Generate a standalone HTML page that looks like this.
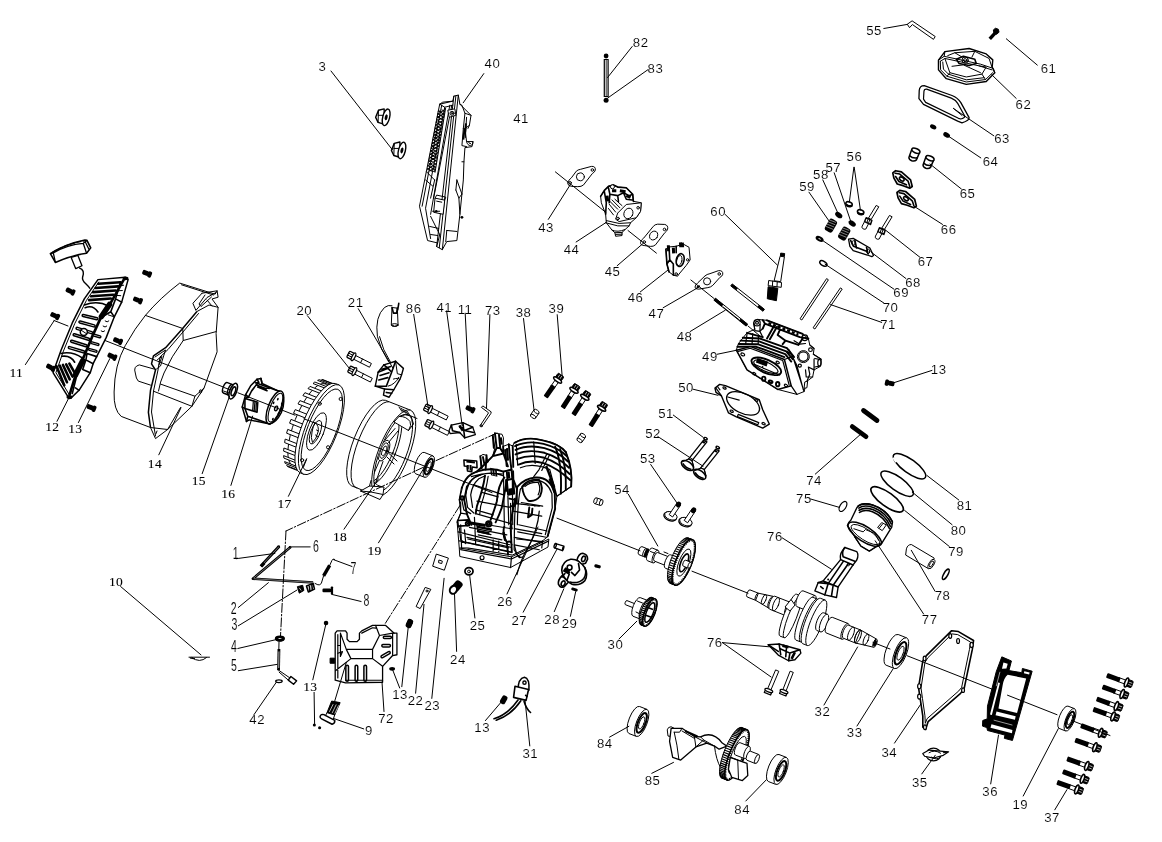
<!DOCTYPE html>
<html><head><meta charset="utf-8"><title>Engine exploded view</title>
<style>
html,body{margin:0;padding:0;background:#fff;}
svg{display:block;filter:grayscale(1)}
.l{stroke:#000;stroke-width:1;fill:none;stroke-linecap:round;stroke-linejoin:round}
.t{stroke:#000;stroke-width:1;fill:none;stroke-linecap:round;stroke-linejoin:round}
.w{stroke:#000;stroke-width:1;fill:#fff;stroke-linejoin:round}
.k{stroke:#000;stroke-width:1;fill:#000;stroke-linejoin:round}
.b{stroke:#000;stroke-width:1.6;fill:none;stroke-linecap:round;stroke-linejoin:round}
path,ellipse,circle,rect,line,polyline,polygon,use{vector-effect:non-scaling-stroke}
.c72 .b{stroke-width:1.2}.blk .l{stroke-width:1.2}.blk .b{stroke-width:1.9}
text{font-family:"Liberation Sans",sans-serif;font-size:13.2px;fill:#000;text-anchor:middle;letter-spacing:.5px;stroke:#fff;stroke-width:.12px}
text.s{font-family:"Liberation Serif",serif;font-size:13.5px;stroke:#000;stroke-width:.1px;letter-spacing:.3px}
text.n{font-family:"Liberation Sans",sans-serif;font-size:17px;letter-spacing:0}
</style></head>
<body>
<svg width="1162" height="842" viewBox="0 0 1162 842">
<rect width="1162" height="842" fill="#fff"/>
<!-- 02_defs.svg -->
<defs>
<g id="bolt"><rect class="w" x="0" y="-2.1" width="19" height="4.2"/><path class="l" d="M9 -2.1V2.1"/><rect class="w" x="-6" y="-3.4" width="5.5" height="6.8" rx="1" style="stroke-width:1.3"/><path class="l" d="M-6 -1.1H-.5M-6 1.1H-.5"/><ellipse class="w" cx="0" cy="0" rx="1.5" ry="4.3" style="stroke-width:1.3"/></g>
<g id="boltk"><rect class="w" x="0" y="-2" width="9" height="4"/><rect x="7" y="-2.5" width="14" height="5" rx="1" fill="#000"/><rect x="-6.2" y="-3.5" width="6" height="7" rx="1.2" fill="#000" stroke="#000" stroke-width="1"/><path d="M-5.6 -1.2H-1M-5.6 1.2H-1" stroke="#fff" stroke-width=".7"/><ellipse cx="0" cy="0" rx="1.7" ry="4.7" fill="#fff" stroke="#000" stroke-width="1.6"/></g>
<g id="scr"><rect x="-5" y="-2.4" width="6.5" height="4.8" rx="1.4" fill="#000"/><rect x="0.8" y="-3.2" width="3.8" height="6.4" rx="1.6" fill="#000"/></g>
</defs>

<!-- 10_p12.svg -->
<g transform="translate(40 230) scale(0.08313)">
<path d="M375 330L455 305L505 430L430 465Z" fill="#fff" stroke="#000" stroke-width="1.3" stroke-linejoin="round"/>
<path d="M125 285Q300 170 540 120L565 125L610 215L560 280Q400 300 185 390Z" fill="#fff" stroke="#000" stroke-width="1.6" stroke-linejoin="round"/>
<path d="M160 275Q330 175 520 160L560 280M520 160L565 125M545 145L590 235M160 275L125 285M160 275L185 390" fill="none" stroke="#000" stroke-width="1.3" stroke-linejoin="round"/>
<path d="M150 268Q320 165 545 128" fill="none" stroke="#000" stroke-width="1.2" stroke-dasharray="5 1.5"/>
<path d="M470 455C525 470 532 520 512 570C500 625 560 640 602 705" fill="none" stroke="#000" stroke-width="1.4"/>
</g>
<g transform="translate(45 270) scale(0.16043)">
<path d="M330 60L500 45L518 60L478 200L432 292L382 420L322 540L300 584L282 640L212 750L160 800L140 785L50 640L100 500L170 330L245 180Z" fill="#fff" stroke="#000" stroke-width="1.5" stroke-linejoin="round"/>
<path class="l" d="M335 75L258 190L185 335L115 505L68 640L150 775"/>
<path d="M492 58L400 222L350 292L292 420L242 540L192 650L152 782" fill="none" stroke="#000" stroke-width="2.6" stroke-linejoin="round"/>
<path d="M402 215L352 290M235 565L190 655" stroke="#000" stroke-width="5.5" stroke-linecap="round"/>
<path d="M332 86L470 76" stroke="#000" stroke-width="2.6" stroke-linecap="round"/>
<path d="M316 112L455 102" stroke="#000" stroke-width="2.6" stroke-linecap="round"/>
<path d="M300 138L440 128" stroke="#000" stroke-width="2.6" stroke-linecap="round"/>
<path d="M288 164L425 154" stroke="#000" stroke-width="2.6" stroke-linecap="round"/>
<path d="M275 188L410 178" stroke="#000" stroke-width="2.6" stroke-linecap="round"/>
<path class="b" d="M245 218Q330 188 395 225M250 235Q300 215 330 262M100 520Q170 505 232 548M105 538Q160 530 185 575"/>
<rect x="0" y="-6.5" width="100.7" height="13.0" rx="6.5" fill="#fff" stroke="#000" stroke-width="1.5" transform="translate(232.0 282.0) rotate(13.2)"/>
<rect x="0" y="-6.5" width="103.8" height="13.0" rx="6.5" fill="#fff" stroke="#000" stroke-width="1.5" transform="translate(212.0 322.0) rotate(15.6)"/>
<rect x="0" y="-6.5" width="106.3" height="13.0" rx="6.5" fill="#fff" stroke="#000" stroke-width="1.5" transform="translate(194.0 362.0) rotate(16.4)"/>
<rect x="0" y="-6.5" width="106.9" height="13.0" rx="6.5" fill="#fff" stroke="#000" stroke-width="1.5" transform="translate(176.0 402.0) rotate(17.4)"/>
<rect x="0" y="-6.5" width="106.9" height="13.0" rx="6.5" fill="#fff" stroke="#000" stroke-width="1.5" transform="translate(160.0 442.0) rotate(17.4)"/>
<rect x="0" y="-6.5" width="104.4" height="13.0" rx="6.5" fill="#fff" stroke="#000" stroke-width="1.5" transform="translate(146.0 482.0) rotate(16.7)"/>
<rect x="0" y="-6.0" width="49.7" height="12.0" rx="6.0" fill="#fff" stroke="#000" stroke-width="1.4" transform="translate(300.0 405.0) rotate(15.2)"/>
<rect x="0" y="-6.0" width="51.9" height="12.0" rx="6.0" fill="#fff" stroke="#000" stroke-width="1.4" transform="translate(286.0 452.0) rotate(15.6)"/>
<rect x="0" y="-6.0" width="53.9" height="12.0" rx="6.0" fill="#fff" stroke="#000" stroke-width="1.4" transform="translate(272.0 494.0) rotate(15.1)"/>
<circle cx="242" cy="386" r="22" fill="#fff" stroke="#000" stroke-width="1.5"/><path class="l" d="M225 375L260 398"/>
<path d="M72 600L120 718" stroke="#000" stroke-width="2.6" stroke-linecap="round"/>
<path d="M92 596L137 700" stroke="#000" stroke-width="2.6" stroke-linecap="round"/>
<path d="M112 592L154 682" stroke="#000" stroke-width="2.6" stroke-linecap="round"/>
<path d="M132 588L171 664" stroke="#000" stroke-width="2.6" stroke-linecap="round"/>
<path d="M152 584L188 646" stroke="#000" stroke-width="2.6" stroke-linecap="round"/>
<path class="b" d="M470 75L440 180L478 200M440 180L410 260L432 292M410 260L360 290M300 584L255 560L235 620L282 640M255 560L262 520L322 540M212 750L190 735M170 770L200 650"/>
<path class="l" d="M455 100L490 95M445 130L482 128M436 158L472 160M375 318Q388 330 398 318M362 350Q375 362 385 350M350 380Q362 392 372 380M395 280L425 290"/>
<ellipse cx="502" cy="52" rx="18" ry="12" fill="#000"/><ellipse cx="152" cy="792" rx="18" ry="13" fill="#000"/>
</g>
<use href="#scr" transform="translate(70.6 291.3) rotate(25)"/>
<use href="#scr" transform="translate(55.2 315.9) rotate(25)"/>
<use href="#scr" transform="translate(51.0 367.6) rotate(28)"/>
<use href="#scr" transform="translate(147.2 273.5) rotate(22)"/>
<use href="#scr" transform="translate(138.0 300.2) rotate(22)"/>
<use href="#scr" transform="translate(118.1 340.9) rotate(22)"/>
<use href="#scr" transform="translate(112.4 356.5) rotate(25)"/>
<use href="#scr" transform="translate(91.6 407.8) rotate(22)"/>
<!-- 12_p14.svg -->
<g>
<!-- fan cover 14 -->
<path class="w" d="M179.7 283.1L215.1 294.2L217.1 290.8L218.1 297.2L212 299L218.1 307.3L216.1 333.6L217.1 351.8L204 388.1L191.9 406.3L167.6 429.5L155.5 438.6L150.5 427.5L121.2 416.4Q113.5 410 114.1 392Q114.5 365 125.2 345.7Q135 328 145.4 315.4Q160 298 179.7 283.1Z"/>
<path class="l" d="M181.5 284.8L213.5 295"/>
<path class="l" d="M145.4 315.4L182.8 328.5"/>
<path class="l" d="M202 293.2L217.1 290.8M202 293.2L192.9 303.3L195.9 310.4L207 297.5L216 292.5M205 295L199 304L201 306.5L211.5 297M197 311.5L209 305L218 307.3M207 300L212 306"/>
<path d="M196.9 311.4L181.8 329.5L165.6 347.7L153.5 355.8L151.5 363.9L155.5 370L150.5 390.2L148.4 412.4L150.5 427.5" fill="none" stroke="#000" stroke-width="1.5" stroke-linejoin="round"/>
<path class="l" d="M198.5 313.5L183.8 331L168 349.5L160 357L158 370L153.5 391L151.5 412L155.5 436"/>
<path class="l" d="M155 357L165.5 350L160.5 366L156.5 369M157.5 359.5L162 356.5L159 365"/>
<path class="l" d="M182.8 329.5L183.2 340.5L216.1 331.6M183.2 340.5Q171 357 164 373Q160 382 158.5 391"/>
<path class="l" d="M153.5 368.9L139.3 364.9Q133 366.5 135.3 373Q136 379 138.3 381.1L150.5 385.1"/>
<path class="l" d="M160.6 384.1L194.9 396.2M153.5 391.2L191.9 406.3M204 388.1L194.9 396.2L192 406"/>
<path class="l" d="M150.5 427.5L167.6 429.5M167.6 429.5L180.5 407.5M157 431L155.8 434"/>
<ellipse cx="200.5" cy="391.5" rx="1.1" ry="1.7" class="l"/>
</g>

<!-- 14_fly.svg -->
<path class="w" style="stroke-width:1.4" d="M232.6 384.6L227.4 382.6A2.4 5.6 21.5 0 0 223.3 393.0L228.4 395.0Z"/><ellipse class="w" style="stroke-width:1.4" rx="2.4" ry="5.6" transform="translate(230.5 389.8) rotate(21.5)" />
<path class="l" d="M224 387.5L229.5 389.5M223.5 391L229 393"/>
<ellipse class="w" rx="3.4" ry="8.3" transform="translate(233.2 391.2) rotate(21.5)" style="stroke-width:1.5"/>
<ellipse class="l" rx="1.9" ry="4.6" transform="translate(233.4 391.3) rotate(21.5)" style="stroke-width:1.6"/>
<g transform="translate(220 370) scale(0.07123)">
<path d="M575 118L520 130L430 222L360 345L312 520L372 722L410 700L700 758Q790 740 860 600Q920 450 880 340Q860 300 830 300L590 190Z" fill="#fff" stroke="#000" stroke-width="1.5" stroke-linejoin="round"/>
<path class="b" d="M575 118L590 190M520 130L545 175L500 180M545 175Q450 260 400 380M360 345L400 380L350 400M312 520L350 540L390 650L372 722M390 650L700 758M500 180L830 300"/>
<path class="b" d="M350 400L530 452L520 592L350 540ZM520 215L650 262M530 240L660 290"/>
<path d="M468 440L458 572M490 450L480 578M512 455L502 585M640 255L700 262" stroke="#000" stroke-width="1.2"/>
<ellipse cx="770" cy="525" rx="92" ry="245" transform="rotate(21.5 770 525)" fill="#fff" stroke="#000" stroke-width="1.5"/>
<ellipse cx="778" cy="528" rx="72" ry="215" transform="rotate(21.5 778 528)" fill="none" stroke="#000" stroke-width="1.1"/>
<ellipse cx="788" cy="540" rx="20" ry="34" transform="rotate(21.5 788 540)" fill="none" stroke="#000" stroke-width="1.4"/>
<ellipse cx="812" cy="410" rx="12" ry="20" transform="rotate(21.5 812 410)" fill="#000"/>
<ellipse cx="752" cy="462" rx="12" ry="20" transform="rotate(21.5 752 462)" fill="#000"/>
<ellipse cx="868" cy="472" rx="12" ry="20" transform="rotate(21.5 868 472)" fill="#000"/>
<ellipse cx="822" cy="612" rx="12" ry="20" transform="rotate(21.5 822 612)" fill="#000"/>
<ellipse cx="742" cy="690" rx="12" ry="20" transform="rotate(21.5 742 690)" fill="#000"/>
<ellipse cx="850" cy="560" rx="12" ry="20" transform="rotate(21.5 850 560)" fill="#000"/>
</g>
<ellipse class="w" rx="14.7" ry="44.0" transform="translate(309.0 424.8) rotate(21.5)" />
<path class="w" d="M287.6 466.6L299.7 471.4L298.7 470.4L286.6 465.6Z"/>
<path class="w" d="M285.2 463.4L297.3 468.2L296.7 466.4L284.6 461.6Z"/>
<path class="w" d="M283.9 458.1L296.0 462.9L295.7 460.4L283.6 455.6Z"/>
<path class="w" d="M283.6 451.1L295.7 455.8L296.0 452.7L283.9 448.0Z"/>
<path class="w" d="M284.6 442.6L296.7 447.4L297.3 443.8L285.2 439.1Z"/>
<path class="w" d="M286.6 433.2L298.7 437.9L299.8 434.1L287.7 429.4Z"/>
<path class="w" d="M289.6 423.2L301.7 428.0L303.1 424.2L291.0 419.4Z"/>
<path class="w" d="M293.5 413.3L305.6 418.1L307.3 414.4L295.2 409.6Z"/>
<path class="w" d="M298.0 403.9L310.1 408.7L312.0 405.3L299.9 400.6Z"/>
<path class="w" d="M302.9 395.6L315.0 400.3L317.0 397.5L304.9 392.7Z"/>
<path class="w" d="M308.0 388.6L320.1 393.4L322.1 391.2L310.0 386.4Z"/>
<path class="w" d="M313.0 383.5L325.1 388.2L326.9 386.8L314.8 382.0Z"/>
<path class="w" d="M317.6 380.4L329.7 385.1L331.4 384.5L319.3 379.7Z"/>
<path class="w" d="M321.7 379.5L333.8 384.2L335.1 384.5L323.0 379.7Z"/>
<path class="w" d="M339.0 384.9L335.3 383.5A16.0 48.0 21.5 0 0 300.1 472.8L303.8 474.3Z"/><ellipse class="w" rx="16.0" ry="48.0" transform="translate(321.4 429.6) rotate(21.5)" />
<ellipse class="l" rx="14.3" ry="43.5" transform="translate(321.9 429.8) rotate(21.5)" />
<ellipse class="l" rx="7.2" ry="20.0" transform="translate(316.5 431.5) rotate(21.5)" />
<ellipse class="l" rx="4.6" ry="12.5" transform="translate(315.5 432.2) rotate(21.5)" />
<path class="l" transform="translate(0 2)" d="M315 420.5Q319.5 424 318 430Q316.5 437 312.5 440.5Q310.5 436 312 430Q313 424 315 420.5ZM316.5 428L318.5 429M315.5 433L317.5 434.5"/>
<circle class="l" cx="340.7" cy="399.0" r="1.6"/>
<circle class="l" cx="328.1" cy="447.3" r="1.6"/>
<circle class="l" cx="302.1" cy="460.2" r="1.6"/>
<circle class="l" cx="319.7" cy="403.7" r="1.6"/>
<path class="l" d="M303.5 467L306.5 459.5"/>
<path class="w" d="M410.6 410.2L385.4 400.3A15.3 46.0 21.5 0 0 351.7 485.9L376.8 495.8Z"/><ellipse class="w" rx="15.3" ry="46.0" transform="translate(393.7 453.0) rotate(21.5)" />
<defs><clipPath id="c18"><path d="M330 380L389.9 399.1L356.2 490.7L330 520Z"/></clipPath><clipPath id="c18b"><ellipse rx="13.2" ry="41" transform="translate(393.2 452.8) rotate(21.5)"/></clipPath></defs>
<g clip-path="url(#c18)"><ellipse class="l" rx="15.3" ry="46.0" transform="translate(373.1 444.9) rotate(21.5)" /></g>
<ellipse class="l" rx="13.2" ry="41.0" transform="translate(393.2 452.8) rotate(21.5)" />
<g clip-path="url(#c18b)">
<ellipse class="l" rx="12.5" ry="38.0" transform="translate(383.7 449.0) rotate(21.5)" />
<ellipse class="l" rx="11.5" ry="35.5" transform="translate(382.2 448.4) rotate(21.5)" />
<ellipse class="w" rx="4.6" ry="11.0" transform="translate(384.0 450.6) rotate(21.5)" />
<ellipse class="l" rx="3.3" ry="8.2" transform="translate(384.0 450.6) rotate(21.5)" />
<ellipse class="l" rx="2.0" ry="5.2" transform="translate(384.3 450.8) rotate(21.5)" />
<path class="l" d="M385 440L395 428.5M388.5 442.5L398 431M379.5 460.5L372 478M383 461.5L376 481.5M388.5 453L397 461M387 457L394 464"/>
</g>
<path class="w" d="M394 422L399 416.5Q406 416 410 421.5Q412 425 408.5 430.5Z"/><path class="l" d="M408.5 430.5L413.5 424L411 416L404 414.5L399 416.5M411 416L417 418.5"/>
<path class="w" d="M360.5 491L369.5 486L384 487L383 494.5L380 499.5Z"/><path class="l" d="M369.5 486L371 480.5M383 494.5L371 492L360.5 491M374 482Q377 486 382 487"/>
<path class="l" d="M399.0 407.0L402.0 411.5"/>
<path class="l" d="M401.0 408.0L404.0 412.5"/>
<path class="l" d="M403.0 409.0L406.0 413.5"/>
<path class="l" d="M405.0 410.0L408.0 414.5"/>
<path class="l" d="M407.0 411.0L410.0 415.5"/>
<path class="w" d="M433.0 455.9L424.2 452.4A4.1 11.5 21.5 0 0 415.7 473.8L424.6 477.3Z"/><ellipse class="w" rx="4.1" ry="11.5" transform="translate(428.8 466.6) rotate(21.5)" /><ellipse class="l" rx="3.0" ry="8.3" transform="translate(428.8 466.6) rotate(21.5)" style="stroke-width:2"/><ellipse class="l" rx="1.8" ry="5.2" transform="translate(428.8 466.6) rotate(21.5)" />
<!-- 20_block.svg -->
<g class="blk" transform="translate(450 425) scale(0.17816)">
<!-- base -->
<path class="w" d="M52 690L345 740L555 640L550 685L340 800L55 738Z"/>
<path class="l" d="M345 740L340 800M60 700L345 752L552 652M100 690L350 728L520 648"/>
<circle class="l" cx="180" cy="745" r="11"/>
<!-- main body silhouette (white) -->
<path class="w" d="M75 332Q95 280 150 262L175 240L170 175L185 165L205 170L212 205L240 175L252 128L240 58L252 46L292 52L300 72L298 120L330 108L352 118L360 100Q420 60 520 85Q620 105 650 150Q690 250 680 345L600 400L590 470L550 625L520 650L350 730L100 690L52 690L40 545L60 495L52 420Z"/>
<!-- cylinder fins -->
<g class="b">
<path d="M362 100Q430 62 520 86Q615 106 650 152"/>
<path d="M365 118Q440 84 525 106Q610 128 655 175"/>
<path d="M368 140Q440 108 530 130Q610 152 662 205"/>
<path d="M368 165Q440 134 530 156Q610 180 668 240"/>
<path d="M375 192Q450 162 530 184Q605 208 672 275"/>
<path d="M385 222Q450 192 525 214Q600 240 676 310"/>
<path d="M650 152Q690 250 680 345"/>
<path d="M618 135Q655 230 650 365M590 122Q630 215 622 385"/>
</g>
<path class="l" d="M372 108L380 225M470 95L478 215M680 345L600 400L590 380M560 250L600 400M545 160L500 250L470 290M560 165L515 255M395 240Q450 215 520 235L560 250"/>
<path d="M540 230L585 350" stroke="#000" stroke-width="2.4" fill="none"/>
<!-- top bracket -->
<path class="b" d="M252 46L262 128L240 175M275 55L282 130M298 120L300 160L325 232M262 128L282 130L300 160M240 58L246 128M330 108L335 170L345 250M352 118L355 235M310 140L318 230M175 240L240 175M150 262L212 205M240 175L300 160"/>
<path d="M285 70L290 110M320 130L325 200" stroke="#000" stroke-width="2.2"/>
<!-- left bosses -->
<path class="w" d="M78 197L150 202L152 240L125 236L122 262L98 258L96 232L80 230Z" style="stroke-width:1.5"/>
<path d="M92 205L140 210M100 225L100 250M115 225L116 255" stroke="#000" stroke-width="2"/>
<path class="b" d="M170 175L178 242M205 170L200 250M185 180L192 215L212 205"/>
<path d="M225 240L262 250L266 290L230 282Z" fill="#000"/><path d="M236 250L240 280M250 252L254 284" stroke="#fff" stroke-width=".7"/>
<!-- crankcase left opening outer arcs -->
<path class="b" d="M75 332Q95 280 150 262Q230 235 300 262"/>
<path class="l" d="M65 350L52 420L60 440L60 495L95 500M75 332L65 350M60 495L40 545"/>
<!-- right crankcase half -->
<path class="b" d="M380 345Q420 300 480 295Q560 290 588 380L590 470L548 625"/>
<path class="l" d="M395 360Q430 318 480 312Q545 308 572 385L574 465L535 615"/>
<path class="b" d="M405 345Q440 300 500 308Q528 350 505 400Q480 432 440 425Q410 400 405 345Z"/>
<path class="l" d="M420 345Q450 318 495 322Q512 355 495 392"/>
<path d="M560 300L588 380" stroke="#000" stroke-width="2.6" fill="none"/>
</g>
<g class="blk" transform="translate(452 470) scale(0.12466)">
<!-- left half interior -->
<path class="l" d="M110 200Q120 110 180 60L230 40M150 200Q160 120 215 70L262 48M80 245L95 320L150 350M110 200L125 300L175 345M150 200L165 300"/>
<circle class="b" cx="82" cy="225" r="14"/><circle cx="82" cy="225" r="6" fill="#000"/>
<path class="b" d="M265 45Q250 150 200 290L190 350M420 60Q370 120 360 250Q340 320 310 400M440 80Q420 200 400 300Q380 360 350 420M505 230L470 420L480 470"/>
<path class="l" d="M290 50Q275 160 230 290L222 360M200 250L470 300M190 320L330 360M190 350L470 430M240 180L370 215"/>
<!-- centre web -->
<path d="M440 80L490 70L500 190L450 200Z" fill="#fff" stroke="#000" stroke-width="1.9" stroke-linejoin="round"/>
<path d="M452 150L496 142L500 190L452 200Z" fill="#000"/>
<path class="b" d="M460 230L510 240L500 290L470 290M490 70L520 150L520 270M440 20L445 80M490 10L492 70"/>
<!-- shelf + bosses -->
<path class="w" d="M45 405L130 400L140 445L50 450Z" style="stroke-width:1.6"/>
<circle class="b" cx="125" cy="430" r="15"/><circle cx="125" cy="430" r="7" fill="#000"/>
<circle class="b" cx="295" cy="432" r="22"/><circle class="b" cx="295" cy="432" r="10"/>
<path d="M150 425L270 445" stroke="#000" stroke-width="3"/>
<path d="M200 490L300 510" stroke="#000" stroke-width="2.6"/>
<!-- lower body -->
<path class="l" d="M60 470L70 560L110 590M100 480L110 580M180 380L190 600M210 520L400 560M330 560L330 650M375 570L375 655M120 540L470 620M110 580L470 660M140 460L440 520M50 450L60 470M320 445L470 470"/>
<path class="b" d="M420 450Q400 520 440 580L450 680M470 450L480 660M440 580Q470 560 480 600"/>
<!-- right half lower -->
<path class="l" d="M520 270L700 290M490 330L720 370M500 470L720 510M500 540L720 580M500 600L700 640M700 330Q690 480 600 640Q560 700 520 840M500 600L520 680L540 700L545 690"/>
<path class="b" d="M620 300L610 380L640 360L645 310"/>
<circle cx="560" cy="275" r="4" fill="#000"/><circle cx="610" cy="282" r="4" fill="#000"/><circle cx="665" cy="290" r="4" fill="#000"/>
</g>
<g class="blk" transform="translate(450 425) scale(0.17816)">
<path class="l" d="M45 600L335 672M52 650L340 712M60 560L65 690M150 560L160 600L230 615M100 640L330 690M300 262L305 560M325 400L330 560M340 440L342 600M300 262L345 250L350 300L352 560M130 335L300 392M95 345Q120 295 170 280Q235 258 298 285M120 290Q200 262 296 275M385 560L545 595M380 600L540 630M375 640L520 655M360 700L390 745L410 740M520 650L515 690M380 345Q365 420 362 560L360 700M395 360Q380 430 378 560M400 435L520 455"/>
<path class="b" d="M300 262L345 250L350 300M95 345L80 420L95 500L120 560"/>
<path d="M316 305L318 375M150 570L235 588M300 600L310 650M328 262L332 300" stroke="#000" stroke-width="2.4" fill="none"/>
</g>

<!-- 22_muffler.svg -->
<g transform="translate(370 85) scale(0.20202)">
<!-- nuts 3 -->
<g id="nut3"><path class="w" style="stroke-width:1.4" d="M42 125L70 118L72 195L40 185L28 160Z"/><path class="l" d="M40 150L70 150M42 125L40 185"/><ellipse class="w" style="stroke-width:1.4" cx="80" cy="160" rx="17" ry="42" transform="rotate(14 80 160)"/><ellipse cx="80" cy="160" rx="7" ry="15" fill="#000" transform="rotate(14 80 160)"/></g>
<use href="#nut3" transform="translate(78 164)"/>
<!-- muffler body -->
<path class="w" d="M345 95L410 80L415 55L437 50L445 95L500 150L492 200L470 215L478 280L510 280L505 305L470 310L465 380L462 470L455 540L445 640L430 770L380 775L358 815L330 800L335 782L285 770L245 600Z"/>
<path class="l" d="M415 55L330 800M437 50L358 815M425 55L343 805"/>
<path class="l" d="M345 95L370 110L410 100M370 110L275 610L300 760M355 100L258 600M345 95L360 85L410 80"/>
<path class="l" d="M395 100L300 640M405 100L315 560"/>
<!-- louvers -->
<defs><clipPath id="cmf"><path d="M336 128L374 116L322 432L280 426Z"/></clipPath></defs>
<g clip-path="url(#cmf)"><path d="M270 -60L380 10M270 10L380 -60M270 -44L380 26M270 26L380 -44M270 -28L380 42M270 42L380 -28M270 -12L380 58M270 58L380 -12M270 4L380 74M270 74L380 4M270 20L380 90M270 90L380 20M270 36L380 106M270 106L380 36M270 52L380 122M270 122L380 52M270 68L380 138M270 138L380 68M270 84L380 154M270 154L380 84M270 100L380 170M270 170L380 100M270 116L380 186M270 186L380 116M270 132L380 202M270 202L380 132M270 148L380 218M270 218L380 148M270 164L380 234M270 234L380 164M270 180L380 250M270 250L380 180M270 196L380 266M270 266L380 196M270 212L380 282M270 282L380 212M270 228L380 298M270 298L380 228M270 244L380 314M270 314L380 244M270 260L380 330M270 330L380 260M270 276L380 346M270 346L380 276M270 292L380 362M270 362L380 292M270 308L380 378M270 378L380 308M270 324L380 394M270 394L380 324M270 340L380 410M270 410L380 340M270 356L380 426M270 426L380 356M270 372L380 442M270 442L380 372M270 388L380 458M270 458L380 388M270 404L380 474M270 474L380 404M270 420L380 490M270 490L380 420M270 436L380 506M270 506L380 436M270 452L380 522M270 522L380 452M270 468L380 538M270 538L380 468M270 484L380 554M270 554L380 484M270 500L380 570M270 570L380 500M270 516L380 586M270 586L380 516M270 532L380 602M270 602L380 532M270 548L380 618M270 618L380 548M270 564L380 634M270 634L380 564M270 580L380 650M270 650L380 580M270 596L380 666M270 666L380 596M270 612L380 682M270 682L380 612M270 628L380 698M270 698L380 628M270 644L380 714M270 714L380 644M270 660L380 730M270 730L380 660M270 676L380 746M270 746L380 676M270 692L380 762M270 762L380 692M270 708L380 778M270 778L380 708M270 724L380 794M270 794L380 724" stroke="#000" stroke-width="1.1" fill="none"/></g>
<path class="l" d="M374 116L322 432"/>
<path class="l" d="M280 430L320 470M320 470L300 560M275 470L310 500"/>
<!-- bolt top -->
<path class="w" d="M385 125L420 118L425 150L392 160Z"/><circle class="l" cx="406" cy="140" r="10"/><circle class="l" cx="406" cy="140" r="4"/>
<!-- right bracket -->
<path class="l" d="M445 95L455 100L470 140L500 150M470 140L462 215M478 160L472 260M492 200L485 215M462 215L455 300L478 305"/>
<path d="M468 215L462 270M475 190L470 240" stroke="#000" stroke-width="2"/>
<path class="l" d="M478 280Q482 300 498 300Q512 298 510 280M487 280Q489 292 498 291"/>
<path class="l" d="M465 380L455 380M430 470L455 540M430 470L425 520M455 540L440 560L445 640M425 520L440 560"/>
<circle cx="455" cy="655" r="7" fill="#000"/>
<!-- lower details -->
<path class="w" d="M322 560L370 570L362 640L315 630Z"/><path class="l" d="M330 575L355 580M322 560L330 545L375 555L370 570"/>
<circle cx="328" cy="625" r="6" fill="#000"/><path class="l" d="M310 625L345 625"/>
<path class="l" d="M300 650L345 740M295 700L340 710M300 740L335 745M380 720L430 725M380 720L375 775M345 740L335 782"/>
</g>

<!-- 24_carb.svg -->
<g transform="translate(555 160) scale(0.14257)">
<!-- gasket 43 -->
<path class="w" d="M88 160Q95 140 115 125L150 78Q160 68 180 65L255 45Q285 42 283 70Q280 85 262 95L200 175Q185 188 160 187L115 185Q90 182 88 160Z"/>
<circle class="l" cx="178" cy="118" r="28"/><circle class="l" cx="106" cy="160" r="9"/><circle class="l" cx="262" cy="70" r="9"/>
<!-- carb 44 -->
<path class="w" d="M320 255L345 215L375 185L410 175L440 190L500 195L545 240L550 290L605 300L600 360L570 405L530 440L520 462L470 508L470 530L425 535L420 510L400 492L360 440L355 380L325 300Z"/>
<path class="b" d="M345 215L375 185L410 175L440 190L500 195L545 240L550 290M320 255L345 215L360 300L355 380M375 195L385 240L440 250L480 230L520 250L545 240M385 240L380 300M440 250L445 290M480 230L500 275L540 280"/>
<path d="M400 215L430 215M455 215L495 222M500 250L530 262M365 250L370 290" stroke="#000" stroke-width="3" fill="none"/>
<circle class="w" cx="403" cy="188" r="14"/>
<path class="l" d="M385 290L440 345M400 280L455 335M420 275L470 320M380 310L425 365M375 340L410 385"/>
<path class="w" d="M440 372L500 312L605 300L600 360L570 405L450 432L425 415Z"/>
<ellipse class="l" cx="515" cy="375" rx="31" ry="38" transform="rotate(25 515 375)"/>
<circle class="l" cx="583" cy="335" r="9"/><circle class="l" cx="442" cy="410" r="9"/>
<path class="l" d="M360 425L450 445L530 440M355 440L440 462L520 462M420 510L470 508M425 522L470 520M400 492Q440 510 490 488"/>
<!-- gasket 45 -->
<path class="w" d="M600 578Q603 560 622 548L690 465Q700 452 720 450L770 452Q795 458 790 485Q785 500 770 510L705 595Q690 608 670 606L625 600Q598 598 600 578Z"/>
<ellipse class="l" cx="692" cy="530" rx="27" ry="33" transform="rotate(35 692 530)"/><circle class="l" cx="626" cy="575" r="9"/><circle class="l" cx="768" cy="487" r="9"/>
<!-- insulator 46 -->
<path class="w" d="M778 625L800 610L850 605L900 590L940 612L948 700L920 740L870 800L860 815L830 808L800 785L785 730Z"/>
<path class="b" d="M778 625L785 730L800 785M800 610L805 700L785 730M805 700L830 730L830 808M850 605L850 650"/>
<ellipse class="b" cx="878" cy="702" rx="27" ry="46" transform="rotate(12 878 702)"/><ellipse class="l" cx="872" cy="705" rx="18" ry="36" transform="rotate(12 872 705)"/>
<circle class="l" cx="930" cy="700" r="8"/><circle class="l" cx="850" cy="800" r="9"/>
<path d="M795 598L797 640M830 615L832 655M880 578L882 612M893 580L895 612" stroke="#000" stroke-width="3"/>
</g>

<!-- 26_head.svg -->
<g transform="translate(690 240) scale(0.14257)">
<!-- gasket 47 -->
<path class="w" d="M35 330Q38 312 55 300L105 252Q118 240 140 236L200 215Q232 212 230 240Q226 255 210 262L160 318Q145 332 125 334L60 345Q34 345 35 330Z"/>
<circle class="l" cx="120" cy="290" r="25"/><circle class="l" cx="205" cy="238" r="9"/><ellipse cx="58" cy="328" rx="14" ry="8" fill="#000" transform="rotate(-30 58 328)"/>
<!-- studs -->
<g id="stud"><path class="w" d="M296 308L522 486L512 500L286 322Z"/><path d="M291 315L330 346M478 462L517 493" stroke="#000" stroke-width="2.6"/></g>
<g><path class="w" d="M178 408L404 590L394 604L168 422Z"/><path d="M173 415L228 460M350 558L399 597" stroke="#000" stroke-width="2.8"/><path class="l" d="M232 470L345 560"/></g>
<!-- spark plug 60 -->
<path class="k" d="M636 92L664 95L662 116L634 113Z"/>
<path class="w" d="M632 114L662 118L636 292L590 286Z"/>
<path class="w" d="M552 284L642 298L640 332L548 320Z"/><path class="l" d="M580 288L578 324M612 293L610 328"/>
<path class="k" d="M548 328L616 338L606 426L542 412Z"/>
</g>
<g class="blk" transform="translate(700 310) scale(0.14257)">
<!-- head 49 -->
<path class="w" d="M255 280L270 235L330 160L385 135L375 90L400 65L440 70L470 72L720 168L760 200L770 245L800 270L795 310L850 345L845 395L800 420L790 470L750 500L730 572L680 592L545 557L330 420Z"/>
<!-- top rocker area -->
<path class="b" d="M470 72L720 168M455 95L700 190M440 70L455 95L440 130M520 110L470 200M540 118L490 205M700 190L760 200M560 140L545 175L600 215L690 245M600 215L580 240M690 245L720 200"/>
<circle class="l" cx="400" cy="90" r="22"/><circle class="l" cx="400" cy="90" r="10"/><path class="l" d="M378 95L385 145L420 150L422 100M440 130L420 150L440 190"/>
<circle class="l" cx="735" cy="195" r="20"/><path class="l" d="M660 215L700 240L740 235"/>
<path d="M480 92L690 172" stroke="#000" stroke-width="2.4" stroke-dasharray="3 2" fill="none"/>
<!-- fins -->
<g class="b"><path d="M300 195L420 200L610 268L660 330"/><path d="M285 215L415 220L605 290L650 345"/><path d="M272 238L405 240L598 310L640 362"/><path d="M262 258L395 258L592 330"/><path d="M330 160L440 190"/></g>
<path class="l" d="M330 168L320 240M370 165L365 240M410 178L408 240"/>
<!-- face plate -->
<path class="w" d="M255 282L355 257L592 347L640 532L545 557L330 420Z" style="stroke-width:1.5"/>
<path class="l" d="M268 290L352 268L580 354L625 525"/>
<ellipse class="b" cx="465" cy="395" rx="112" ry="46" transform="rotate(24 465 395)"/>
<ellipse class="l" cx="462" cy="398" rx="92" ry="32" transform="rotate(24 462 398)"/>
<path d="M400 345L475 372M395 360L470 388" stroke="#000" stroke-width="2.6"/>
<path class="l" d="M440 395L430 430M380 380L520 440M520 440L560 455"/>
<ellipse class="l" cx="300" cy="312" rx="14" ry="9" transform="rotate(25 300 312)"/>
<ellipse class="l" cx="545" cy="368" rx="12" ry="8" transform="rotate(25 545 368)"/>
<ellipse class="l" cx="380" cy="447" rx="12" ry="8" transform="rotate(25 380 447)"/>
<ellipse class="b" cx="447" cy="482" rx="12" ry="15"/><ellipse class="b" cx="495" cy="503" rx="14" ry="8" transform="rotate(20 495 503)"/><ellipse class="b" cx="545" cy="520" rx="12" ry="15"/>
<ellipse class="l" cx="603" cy="530" rx="12" ry="8" transform="rotate(25 603 530)"/>
<!-- right side -->
<path class="l" d="M592 347L650 325L730 572M640 532L680 592M610 290L655 322M625 280L680 390L725 560"/>
<circle class="w" cx="725" cy="327" r="42"/><circle class="l" cx="725" cy="327" r="33"/>
<circle class="l" cx="775" cy="278" r="13"/><circle class="l" cx="700" cy="390" r="11"/>
<path class="l" d="M770 245L800 270M795 310L850 345M800 420L760 400M760 400L770 450L750 500M800 345L800 420M740 420L745 470L790 470"/>
<ellipse class="l" cx="838" cy="370" rx="12" ry="24"/><path class="l" d="M838 346L805 340M838 394L805 400"/>
<path class="w" d="M735 505L755 498L750 545L730 550Z"/>
<!-- gasket 50 -->
<path class="w" d="M105 548L138 522L178 530L415 628L440 700L486 800L440 828L255 750L200 722L150 602L112 578Z" style="stroke-width:1.4"/>
<ellipse class="l" cx="302" cy="655" rx="125" ry="68" transform="rotate(27 302 655)" style="stroke-width:1.3"/>
<path class="l" d="M268 732L412 790L405 805L262 748ZM195 610L275 632"/>
<ellipse class="l" cx="172" cy="547" rx="12" ry="7" transform="rotate(25 172 547)"/><ellipse class="l" cx="395" cy="632" rx="12" ry="7" transform="rotate(25 395 632)"/><ellipse class="l" cx="222" cy="710" rx="12" ry="7" transform="rotate(25 222 710)"/><ellipse class="l" cx="446" cy="797" rx="12" ry="7" transform="rotate(25 446 797)"/>
<path class="l" d="M112 548L150 600M125 540L140 560"/>
</g>
<!-- pushrods 71 -->
<g class="w"><path d="M826.6 278.6L828.4 279.8L801.8 320L800 318.8Z"/><path d="M840.4 287.9L842.2 289.1L814.9 329L813.1 327.8Z"/></g>

<!-- 28_valvetop.svg -->
<g transform="translate(895 10) scale(0.14252)">
<!-- 55 key -->
<path class="w" d="M86 100L120 76L282 186L270 206L122 102L102 124Z"/>
<!-- bolt 61 -->
<path class="k" d="M690 140L705 128L725 135L730 155L715 170L695 165Z"/><path d="M702 162L665 203" stroke="#000" stroke-width="3.4"/>
<!-- 62 cover -->
<path class="w" d="M350 292L520 270L640 308L686 350L682 400L700 440L640 502L500 522L360 482L305 420L305 352Z" style="stroke-width:1.4"/>
<path class="l" d="M305 352L345 325L600 380L690 410L700 440M345 325L350 292M318 360L350 340L590 392L680 420M318 360L320 420L365 465L500 505L635 488L685 440M335 365L340 415L375 450L500 490L625 475"/>
<path class="l" d="M350 340L385 440L500 470L610 450L640 400L590 392M385 440L365 465M610 450L635 488M370 320L420 300L560 290L660 340L680 400M420 300L470 330M560 290L540 330M400 395L480 385L600 440"/>
<path class="b" d="M430 345L480 325L560 345L570 375L520 390L450 375Z"/>
<circle class="l" cx="492" cy="352" r="22"/><circle class="l" cx="492" cy="352" r="11"/>
<!-- 63 gasket -->
<path class="w" d="M170 565Q172 530 205 530L400 600Q440 615 462 650L520 755Q522 775 470 792L440 780L200 662L168 622Z" style="stroke-width:1.3"/>
<path class="l" d="M203 572Q205 552 222 555L395 618Q425 630 440 655L490 745Q488 760 462 765L445 760L215 648L200 625Z" style="stroke-width:1.2"/>
<path class="l" d="M410 690L470 740"/>
<!-- 64 a -->
<ellipse cx="268" cy="820" rx="24" ry="15" fill="#000" transform="rotate(30 268 820)"/>
</g>
<g transform="translate(800 120) scale(0.16627)">
<ellipse cx="882" cy="90" rx="22" ry="14" fill="#000" transform="rotate(30 882 90)"/>
<!-- 65 -->
<g id="p65"><path class="w" d="M672 178L718 198L700 240Q690 250 672 245Q655 238 655 225Z" style="stroke-width:1.5"/><ellipse class="w" cx="697" cy="185" rx="26" ry="13" transform="rotate(25 697 185)" style="stroke-width:1.5"/><path class="b" d="M660 215Q675 232 705 228"/></g>
<use href="#p65" transform="translate(85 45)"/>
<!-- 66 rockers -->
<g id="p66"><path class="w" d="M558 318L575 305L610 312L665 360L675 400L660 410L620 395L585 385L565 350Z" style="stroke-width:1.7"/><path class="b" d="M572 320L600 325L650 368L660 398M575 340L595 370L640 390"/><ellipse class="b" cx="612" cy="355" rx="16" ry="10" transform="rotate(35 612 355)"/></g>
<use href="#p66" transform="translate(25 118)"/>
<!-- 56 -->
<g id="p56"><ellipse class="w" cx="295" cy="505" rx="20" ry="13" transform="rotate(20 295 505)" style="stroke-width:1.6"/><path d="M278 510Q292 525 313 514" stroke="#000" stroke-width="2.4" fill="none"/></g>
<use href="#p56" transform="translate(70 48)"/>
<!-- 58 / 57 -->
<ellipse cx="233" cy="572" rx="24" ry="15" fill="#000" transform="rotate(35 233 572)"/><ellipse cx="314" cy="622" rx="24" ry="15" fill="#000" transform="rotate(35 314 622)"/>
<!-- 59 springs -->
<g id="p59"><rect x="-26" y="-40" width="52" height="80" rx="16" fill="#000" transform="translate(186 635) rotate(30)"/><path d="M168 612L212 630M162 626L206 644M156 640L200 658M174 600L216 616" stroke="#fff" stroke-width=".5"/></g>
<use href="#p59" transform="translate(80 48)"/>
<!-- 67 studs -->
<g id="p67"><path class="w" d="M458 514L474 522L428 598L412 590Z"/><path class="w" d="M398 588L432 604L424 628L388 612Z" style="stroke-width:1.5"/><path class="w" d="M388 612L412 624L396 656Q385 660 376 652Q370 645 374 638Z"/><path class="l" d="M410 594L402 618M420 598L412 622"/></g>
<use href="#p67" transform="translate(80 60)"/>
<!-- 68 plate -->
<path class="w" d="M292 716L320 712L420 770L442 815L432 822L405 812L320 786L300 760Z" style="stroke-width:1.3"/>
<path class="b" d="M305 725L322 760L400 790M330 722L340 770M400 765L410 805"/><ellipse class="l" cx="322" cy="740" rx="10" ry="14"/><ellipse class="l" cx="410" cy="790" rx="10" ry="14"/>
<!-- 69 washer -->
<ellipse cx="118" cy="715" rx="26" ry="15" fill="#000" transform="rotate(30 118 715)"/><ellipse cx="118" cy="715" rx="8" ry="3" fill="#fff" transform="rotate(30 118 715)"/>
</g>
<!-- 70 washer -->
<ellipse cx="823.3" cy="263.5" rx="4" ry="2.2" class="w" transform="rotate(30 823.3 263.5)" style="stroke-width:1.5"/>

<!-- 30_upmid.svg -->
<!-- bolts 20 -->
<use href="#bolt" transform="translate(353.5 356.8) rotate(26.8)"/><use href="#bolt" transform="translate(354.4 371.6) rotate(26.8)"/>
<!-- bolts 86 -->
<use href="#bolt" transform="translate(430.2 409.6) rotate(26.5)"/><use href="#bolt" transform="translate(431.4 425) rotate(26.5)"/>
<g transform="translate(340 290) scale(0.17812)">
<!-- coil 21 -->
<path class="l" d="M272 402Q225 330 210 260Q195 150 250 98Q270 82 292 88M285 408Q238 335 222 262"/>
<path class="w" d="M292 98L322 102L326 198Q308 210 288 196Z"/><ellipse class="l" cx="307" cy="197" rx="19" ry="8"/><path class="b" d="M292 98L300 130L318 130L322 102M330 75L324 112"/>
<path class="w" d="M198 540L214 462L246 420L312 400L356 440L346 476L336 502L302 560L276 602L244 590L250 556Z" style="stroke-width:1.4"/>
<path class="b" d="M214 462L270 440L290 462L260 540L198 540M246 420L270 440M290 462L312 400M225 480L275 465M218 505L268 492M235 445L285 430M250 556L302 560M260 575L290 580"/>
<path class="l" d="M312 400L322 470L346 476M300 500Q330 490 336 502M270 540Q310 530 330 490"/>
<!-- bracket 41 -->
<path class="w" d="M612 790L625 758L690 745L745 770L760 812L700 830L672 800L618 806Z" style="stroke-width:1.3"/>
<path class="b" d="M625 758L632 790L672 800M690 745L695 790L745 770M695 790L700 830M672 770L690 775M705 790L750 800"/>
<path d="M670 760L690 790" stroke="#000" stroke-width="2.5"/>
</g>
<!-- screw 11 -->
<use href="#scr" transform="translate(470.5 409.2) rotate(25)"/>
<!-- 73 -->
<path class="w" d="M481.4 407.4L482.8 405.9L491.2 411.9L490.8 413.6L482 426.3L480.4 425.3L488.6 412.8Z"/><ellipse cx="481.2" cy="425.8" rx="1.3" ry="1" class="l"/>
<!-- 38 + small cyl -->
<defs><g id="cyl38"><path class="w" d="M0 -3L6 -3L6 3L0 3Z"/><ellipse class="w" cx="6" cy="0" rx="1.6" ry="3"/><ellipse class="w" cx="0" cy="0" rx="1.6" ry="3"/></g></defs>
<use href="#cyl38" transform="translate(536.5 411.5) rotate(125)"/>
<use href="#cyl38" transform="translate(583 435.5) rotate(125)"/>
<!-- bolts 39 -->
<use href="#boltk" transform="translate(557.6 380) rotate(125)"/><use href="#boltk" transform="translate(574 390.3) rotate(123)"/><use href="#boltk" transform="translate(584.8 397.3) rotate(123)"/><use href="#boltk" transform="translate(601.6 408.3) rotate(122)"/>

<!-- rod 82/83 -->
<rect x="604.3" y="59.5" width="3.8" height="37" fill="#fff" stroke="#000" stroke-width="1.2"/><path d="M606.2 60V96" stroke="#000" stroke-width=".8"/><circle cx="606.1" cy="56" r="2.4" fill="#000"/><circle cx="606.1" cy="100.3" r="2.5" fill="#000"/>

<!-- 32_lowleft.svg -->
<g transform="translate(240 535) scale(0.18997)">
<!-- rod 1 -->
<path d="M196 62Q208 52 208 64L112 168M202 58L106 162" fill="none" stroke="#000" stroke-width="1.3"/>
<path d="M128 148L112 166" stroke="#000" stroke-width="3"/>
<!-- rod 2 -->
<path d="M268 62L68 230L385 250" fill="none" stroke="#000" stroke-width="2.6" stroke-linejoin="round"/>
<path d="M268 62L68 230L385 250" fill="none" stroke="#fff" stroke-width=".45" stroke-linejoin="round"/>
<circle cx="262" cy="63" r="5" fill="#000"/><circle cx="68" cy="230" r="5" fill="#000"/>
<!-- spring 7 -->
<path class="l" d="M498 128Q488 122 484 134L470 165M440 215L428 255Q420 265 410 262L395 255"/>
<path d="M472 160L440 215" stroke="#000" stroke-width="3.4"/>
<!-- clips 3 -->
<path class="k" d="M302 272L330 265L336 292L312 306Z"/><path d="M312 278L322 292" stroke="#fff" stroke-width=".7"/>
<path class="w" d="M350 268L385 255L392 285L360 300Z" style="stroke-width:1.6"/><path d="M365 268L368 296M378 262L381 290" stroke="#000" stroke-width="1.6"/>
<!-- screw 8 -->
<rect x="434" y="282" width="46" height="20" rx="6" fill="#000"/><rect x="478" y="271" width="12" height="42" rx="4" fill="#000"/>
<!-- 4 washer -->
<ellipse cx="210" cy="545" rx="20" ry="9" fill="#fff" stroke="#000" stroke-width="2.6"/>
<path d="M192 550Q210 562 228 550" stroke="#000" stroke-width="2.2" fill="none"/>
<!-- 5 arm -->
<path d="M205 600L203 712" stroke="#000" stroke-width="2.8"/><path d="M205 612L204 700" stroke="#fff" stroke-width=".7"/>
<path class="l" d="M198 708L262 752M206 722L252 762"/>
<path class="w" d="M268 745L298 768L282 786L254 764Z" style="stroke-width:1.4"/>
<!-- 42 washer -->
<ellipse class="w" cx="205" cy="770" rx="17" ry="7" style="stroke-width:1.3"/>
<!-- dot -->
<circle cx="453" cy="463" r="12" fill="#000"/>
</g>
<g class="c72" transform="translate(300 610) scale(0.15436)">
<!-- cover 72 -->
<path class="w" d="M228 150L240 135L295 135L305 150L305 190L320 205L370 205L385 190L385 150L400 135L470 100L490 100L555 100L610 150L628 150L628 290L600 295L535 365L535 468L295 472L228 455Z" style="stroke-width:1.3"/>
<path class="b" d="M300 255L470 255L515 165L600 150M515 165L490 100M300 255L330 315L470 315L470 255M330 315L232 392M470 315L535 365M300 255L262 150M600 150L610 150M600 150L600 295M295 455L535 455M245 160L245 440M400 150L470 115L490 118M262 150L262 300"/>
<g fill="none" stroke="#000" stroke-width="1.5"><rect x="540" y="170" width="52" height="15" rx="7"/><rect x="530" y="224" width="56" height="15" rx="7"/><rect x="522" y="282" width="66" height="15" rx="7" transform="rotate(-30 555 290)"/>
<rect x="297" y="358" width="17" height="104" rx="8"/><rect x="357" y="358" width="17" height="104" rx="8"/><rect x="414" y="358" width="17" height="104" rx="8"/></g>
<path class="k" d="M195 312L225 312L225 345L195 345Z"/><path class="b" d="M245 230L262 230M245 280L275 270L262 300"/>
<path class="l" d="M300 340L225 590"/>
<!-- 9 -->
<path class="k" d="M205 590L260 600L225 680L175 665Z"/><path d="M215 610L190 660M235 612L208 668M250 618L225 672" stroke="#fff" stroke-width=".7"/>
<path class="w" d="M130 690Q135 672 155 678L225 715Q228 735 208 740L140 705Q128 700 130 690Z" style="stroke-width:1.5"/>
<path class="l" d="M175 665L165 685M225 680L215 708"/>
<!-- dots -->
<circle cx="167" cy="85" r="11" fill="#000"/><circle cx="93" cy="745" r="10" fill="#000"/><circle cx="127" cy="763" r="10" fill="#000"/>
<ellipse cx="597" cy="381" rx="19" ry="12" fill="#000"/>
<rect x="690" y="58" width="38" height="56" rx="14" fill="#000" transform="rotate(25 709 86)"/>
</g>
<!-- 10 clip -->
<path class="l" d="M189 657.2L209.5 657.2M192 657.6Q199.5 663.5 206.5 657.6"/><path d="M190 657.8L195 658.8" stroke="#000" stroke-width="1.2"/>

<!-- 34_lowmid.svg -->
<g transform="translate(405 545) scale(0.20182)">
<!-- 23 -->
<path class="w" d="M155 45L215 65L195 125L137 105Z"/><path class="l" d="M170 75L185 80L182 92L168 88Z"/>
<!-- 22 -->
<path class="w" d="M100 210L128 220L75 315L55 305Z"/><circle class="l" cx="109" cy="228" r="5"/>
<!-- 24 -->
<rect x="240" y="178" width="40" height="52" rx="14" fill="#000" transform="rotate(40 262 202)"/>
<ellipse class="w" cx="240" cy="222" rx="17" ry="21" transform="rotate(30 240 222)" style="stroke-width:2"/>
<!-- 25 -->
<ellipse cx="317" cy="130" rx="20" ry="18" fill="none" stroke="#000" stroke-width="1.8"/><circle class="l" cx="317" cy="131" r="7"/>
<!-- 31 -->
<path class="w" d="M560 720Q560 660 592 655Q618 660 614 720Z" style="stroke-width:1.5"/><circle class="l" cx="592" cy="682" r="8" style="stroke-width:1.4"/>
<path class="w" d="M545 700L612 716L600 770L538 755Z" style="stroke-width:1.6"/>
<path class="b" d="M560 768Q510 840 441 861M574 772Q525 845 452 868M590 775Q600 810 622 830M598 745L604 750"/>
<!-- screws -->
<rect x="475" y="745" width="28" height="44" rx="11" fill="#000" transform="rotate(30 489 767)"/>
<rect x="8" y="368" width="28" height="44" rx="11" fill="#000" transform="rotate(25 22 390)"/>
</g>
<g transform="translate(545 540) scale(0.07123)">
<!-- 27 -->
<path class="w" d="M150 50L265 85L245 150L135 110Z" style="stroke-width:1.4"/><ellipse class="w" cx="143" cy="80" rx="14" ry="32" transform="rotate(18 143 80)" style="stroke-width:1.4"/><ellipse cx="255" cy="118" rx="16" ry="34" fill="#000" transform="rotate(18 255 118)"/>
<!-- 28 -->
<path class="w" d="M450 280Q470 190 530 185Q600 200 598 270L570 325L510 345Z" style="stroke-width:1.6"/><ellipse class="b" cx="540" cy="265" rx="25" ry="40" transform="rotate(20 540 265)"/>
<path class="w" d="M240 500Q180 560 188 620Q215 680 270 655L330 590Z" style="stroke-width:1.6"/><ellipse class="b" cx="255" cy="610" rx="25" ry="38" transform="rotate(25 255 610)"/>
<path class="w" d="M235 420Q240 300 360 270Q470 260 560 390Q610 480 560 570Q480 650 380 620Q330 600 300 560Q240 500 235 420Z" style="stroke-width:1.6"/>
<path class="b" d="M470 330L485 420L420 500L372 455M560 390Q590 470 545 540Q470 620 350 590"/>
<circle class="b" cx="345" cy="385" r="34"/><path d="M260 420L345 470M275 400L350 440" stroke="#000" stroke-width="3"/>
<path class="b" d="M280 470L240 520M340 480L310 560"/>
<!-- pins -->
<rect x="692" y="348" width="92" height="44" rx="20" fill="#000" transform="rotate(15 738 370)"/>
<rect x="368" y="675" width="92" height="40" rx="18" fill="#000" transform="rotate(15 414 695)"/>
</g>
<!-- small cyl near 54 -->
<use href="#cyl38" transform="translate(595.5 500.7) rotate(18)"/>

<!-- 36_cam.svg -->
<ellipse class="w" cx="670.5" cy="516.7" rx="6.6" ry="4.2" transform="rotate(20 670.9 515.8)" style="stroke-width:1.3"/>
<ellipse class="w" cx="670.9" cy="515.8" rx="6.4" ry="3.9" transform="rotate(20 670.9 515.8)"/>
<path class="w" d="M672.6 517.0L680.6 505.1L677.2 502.7L669.2 514.6Z"/>
<path d="M678.1 505.1L678.9 503.9" stroke="#000" stroke-width="4.6" stroke-linecap="round"/>
<ellipse class="w" cx="685.5" cy="522.5" rx="6.6" ry="4.2" transform="rotate(20 685.9 521.6)" style="stroke-width:1.3"/>
<ellipse class="w" cx="685.9" cy="521.6" rx="6.4" ry="3.9" transform="rotate(20 685.9 521.6)"/>
<path class="w" d="M687.6 522.8L695.6 510.9L692.2 508.5L684.2 520.4Z"/>
<path d="M693.1 510.9L693.9 509.7" stroke="#000" stroke-width="4.6" stroke-linecap="round"/>
<path class="w" d="M646.6 548.5L641.9 546.6A1.8 4.3 21.5 0 0 638.8 554.6L643.4 556.5Z"/><ellipse class="w" rx="1.8" ry="4.3" transform="translate(645.0 552.5) rotate(21.5)" />
<ellipse rx="2" ry="5" transform="translate(646.5 553.1) rotate(21.5)" fill="#000"/>
<path class="w" d="M658.0 550.3L652.4 548.1A2.6 6.8 21.5 0 0 647.4 560.7L653.0 562.9Z"/><ellipse class="w" rx="2.6" ry="6.8" transform="translate(655.5 556.6) rotate(21.5)" />
<path class="w" d="M669.7 557.2L657.6 552.5A1.9 4.6 21.5 0 0 654.2 561.0L666.3 565.8Z"/><ellipse class="w" rx="1.9" ry="4.6" transform="translate(668.0 561.5) rotate(21.5)" />
<path class="w" d="M676.6 557.2L670.6 554.8A2.7 7.2 21.5 0 0 665.3 568.2L671.4 570.6Z"/><ellipse class="w" rx="2.7" ry="7.2" transform="translate(674.0 563.9) rotate(21.5)" />
<path class="l" d="M650.5 551.5L655 553.3M664 552L668 553.6"/>
<path class="w" d="M692.6 539.8L688.0 538.0A8.0 24.3 21.5 0 0 670.1 583.2L674.8 585.0Z"/><ellipse class="w" rx="8.0" ry="24.3" transform="translate(683.7 562.4) rotate(21.5)" />
<path d="M670.1 583.2L674.8 585.0" stroke="#000" stroke-width="1.1"/>
<path d="M669.4 582.7L674.1 584.6" stroke="#000" stroke-width="1.1"/>
<path d="M668.8 582.1L673.4 583.9" stroke="#000" stroke-width="1.1"/>
<path d="M668.3 581.2L672.9 583.0" stroke="#000" stroke-width="1.1"/>
<path d="M667.9 580.0L672.5 581.9" stroke="#000" stroke-width="1.1"/>
<path d="M667.6 578.7L672.3 580.5" stroke="#000" stroke-width="1.1"/>
<path d="M667.5 577.1L672.1 579.0" stroke="#000" stroke-width="1.1"/>
<path d="M667.4 575.4L672.1 577.2" stroke="#000" stroke-width="1.1"/>
<path d="M667.6 573.5L672.2 575.3" stroke="#000" stroke-width="1.1"/>
<path d="M667.8 571.5L672.4 573.3" stroke="#000" stroke-width="1.1"/>
<path d="M668.1 569.3L672.8 571.2" stroke="#000" stroke-width="1.1"/>
<path d="M668.6 567.1L673.3 568.9" stroke="#000" stroke-width="1.1"/>
<path d="M669.2 564.8L673.9 566.6" stroke="#000" stroke-width="1.1"/>
<path d="M669.9 562.4L674.6 564.2" stroke="#000" stroke-width="1.1"/>
<path d="M670.7 560.0L675.4 561.8" stroke="#000" stroke-width="1.1"/>
<path d="M671.6 557.6L676.3 559.5" stroke="#000" stroke-width="1.1"/>
<path d="M672.6 555.3L677.2 557.1" stroke="#000" stroke-width="1.1"/>
<path d="M673.6 553.0L678.3 554.8" stroke="#000" stroke-width="1.1"/>
<path d="M674.7 550.8L679.4 552.6" stroke="#000" stroke-width="1.1"/>
<path d="M675.9 548.7L680.5 550.5" stroke="#000" stroke-width="1.1"/>
<path d="M677.1 546.7L681.7 548.6" stroke="#000" stroke-width="1.1"/>
<path d="M678.3 544.9L682.9 546.7" stroke="#000" stroke-width="1.1"/>
<path d="M679.5 543.3L684.1 545.1" stroke="#000" stroke-width="1.1"/>
<path d="M680.7 541.8L685.3 543.6" stroke="#000" stroke-width="1.1"/>
<path d="M681.9 540.6L686.5 542.4" stroke="#000" stroke-width="1.1"/>
<path d="M683.0 539.5L687.7 541.4" stroke="#000" stroke-width="1.1"/>
<path d="M684.2 538.7L688.8 540.6" stroke="#000" stroke-width="1.1"/>
<path d="M685.2 538.2L689.9 540.0" stroke="#000" stroke-width="1.1"/>
<path d="M686.2 537.8L690.9 539.7" stroke="#000" stroke-width="1.1"/>
<path d="M687.1 537.8L691.8 539.6" stroke="#000" stroke-width="1.1"/>
<path d="M688.0 538.0L692.6 539.8" stroke="#000" stroke-width="1.1"/>
<ellipse class="w" rx="8.0" ry="24.3" transform="translate(683.7 562.4) rotate(21.5)" style="stroke-width:1.5"/>
<ellipse rx="7.4" ry="23.5" transform="translate(683.7 562.4) rotate(21.5)" fill="none" stroke="#000" stroke-width="2" stroke-dasharray="1 1.1"/>
<ellipse class="l" rx="5.0" ry="14.5" transform="translate(683.9 562.6) rotate(21.5)" />
<ellipse class="l" rx="3.3" ry="9.5" transform="translate(684.1 562.8) rotate(21.5)" style="stroke-width:1.6"/>
<path class="w" d="M690.8 562.2L685.7 560.2A1.4 3.2 21.5 0 0 683.3 566.2L688.4 568.2Z"/><ellipse class="w" rx="1.4" ry="3.2" transform="translate(689.6 565.2) rotate(21.5)" />
<path class="w" d="M636.8 604.5L627.0 600.6A1.0 2.2 21.5 0 0 625.4 604.7L635.2 608.5Z"/><ellipse class="w" rx="1.0" ry="2.2" transform="translate(636.0 606.5) rotate(21.5)" />
<path class="w" d="M647.7 600.5L640.2 597.6A3.6 10.0 21.5 0 0 632.9 616.2L640.3 619.1Z"/><ellipse class="w" rx="3.6" ry="10.0" transform="translate(644.0 609.8) rotate(21.5)" />
<path class="l" d="M637.5 601L642.5 603M636 612L641 614.5"/>
<path class="w" d="M655.2 598.8L651.5 597.4A5.1 14.7 21.5 0 0 640.7 624.7L644.4 626.2Z"/><ellipse class="w" rx="5.1" ry="14.7" transform="translate(649.8 612.5) rotate(21.5)" />
<path d="M640.7 624.7L644.4 626.2" stroke="#000" stroke-width="1.2"/>
<path d="M640.1 624.3L643.8 625.8" stroke="#000" stroke-width="1.2"/>
<path d="M639.6 623.7L643.3 625.1" stroke="#000" stroke-width="1.2"/>
<path d="M639.2 622.8L642.9 624.2" stroke="#000" stroke-width="1.2"/>
<path d="M639.0 621.6L642.7 623.1" stroke="#000" stroke-width="1.2"/>
<path d="M638.9 620.3L642.6 621.8" stroke="#000" stroke-width="1.2"/>
<path d="M638.9 618.8L642.7 620.3" stroke="#000" stroke-width="1.2"/>
<path d="M639.1 617.1L642.9 618.6" stroke="#000" stroke-width="1.2"/>
<path d="M639.5 615.3L643.2 616.8" stroke="#000" stroke-width="1.2"/>
<path d="M639.9 613.5L643.6 614.9" stroke="#000" stroke-width="1.2"/>
<path d="M640.5 611.6L644.2 613.0" stroke="#000" stroke-width="1.2"/>
<path d="M641.1 609.6L644.9 611.1" stroke="#000" stroke-width="1.2"/>
<path d="M641.9 607.7L645.6 609.2" stroke="#000" stroke-width="1.2"/>
<path d="M642.8 605.9L646.5 607.4" stroke="#000" stroke-width="1.2"/>
<path d="M643.7 604.2L647.4 605.6" stroke="#000" stroke-width="1.2"/>
<path d="M644.7 602.6L648.4 604.0" stroke="#000" stroke-width="1.2"/>
<path d="M645.7 601.1L649.4 602.6" stroke="#000" stroke-width="1.2"/>
<path d="M646.7 599.9L650.4 601.4" stroke="#000" stroke-width="1.2"/>
<path d="M647.6 598.9L651.4 600.3" stroke="#000" stroke-width="1.2"/>
<path d="M648.6 598.1L652.3 599.5" stroke="#000" stroke-width="1.2"/>
<path d="M649.5 597.5L653.2 599.0" stroke="#000" stroke-width="1.2"/>
<path d="M650.4 597.3L654.1 598.7" stroke="#000" stroke-width="1.2"/>
<path d="M651.1 597.3L654.8 598.7" stroke="#000" stroke-width="1.2"/>
<ellipse class="w" rx="5.1" ry="14.7" transform="translate(649.8 612.5) rotate(21.5)" style="stroke-width:1.5"/>
<ellipse rx="4.5" ry="13.9" transform="translate(649.8 612.5) rotate(21.5)" fill="none" stroke="#000" stroke-width="2" stroke-dasharray="1 1.1"/>
<ellipse class="l" rx="3.4" ry="10.5" transform="translate(649.8 612.5) rotate(21.5)" style="stroke-width:1.5"/>
<path d="M646.5 607L653 609.5M645 615L652 617.5" stroke="#000" stroke-width="1.4"/>
<!-- 38_valves.svg -->
<g transform="translate(675 425) scale(0.07126)">
<g id="valve"><path class="w" d="M398 215L448 238L238 500L190 478Z" style="stroke-width:1.3"/><ellipse cx="428" cy="193" rx="36" ry="26" fill="#000" transform="rotate(25 428 193)"/><ellipse cx="428" cy="190" rx="12" ry="7" fill="#fff" transform="rotate(25 428 190)"/><path d="M385 235L420 252" stroke="#000" stroke-width="2"/>
<path class="w" d="M190 478L238 500L262 585L100 520Z" style="stroke-width:1.2"/>
<ellipse cx="175" cy="568" rx="98" ry="52" fill="#fff" stroke="#000" stroke-width="1.6" transform="rotate(35 175 568)"/>
<path d="M190 478Q160 500 105 515M238 500Q250 540 262 590" class="l"/><path d="M110 540Q140 600 230 625" fill="none" stroke="#000" stroke-width="1.6"/></g>
<use href="#valve" transform="translate(172 125)"/>
</g>
<!-- pins 74 -->
<path d="M863.5 410.5L877 420.5M852.3 426.6L866 436.6" stroke="#000" stroke-width="4.8" stroke-linecap="round"/>
<!-- ring 75 -->
<ellipse class="w" cx="843" cy="506.4" rx="3" ry="5.6" transform="rotate(32 843 506.4)" style="stroke-width:1.2"/>
<!-- bolt 13 right -->
<use href="#scr" transform="translate(889.5 383.2) rotate(12) scale(-1 1)"/>

<!-- 40_piston.svg -->
<g transform="translate(840 450) scale(0.15444)">
<!-- rings -->
<ellipse cx="450" cy="105" rx="126" ry="44" transform="rotate(36 450 105)" fill="none" stroke="#000" stroke-width="1.5"/>
<path d="M345 50L365 78" stroke="#fff" stroke-width="2.2"/>
<ellipse cx="370" cy="218" rx="126" ry="44" transform="rotate(36 370 218)" fill="none" stroke="#000" stroke-width="1.5"/>
<circle cx="472" cy="272" r="7" fill="#000"/>
<ellipse cx="305" cy="320" rx="126" ry="44" transform="rotate(36 305 320)" fill="none" stroke="#000" stroke-width="1.7"/>
<!-- piston -->
<path class="w" d="M110 372Q140 335 210 355Q300 385 340 465L335 500L270 605L240 622L190 655L135 622L95 560L48 490Q50 470 70 455Z" style="stroke-width:1.4"/>
<g class="b"><path d="M118 362Q150 338 215 358Q300 388 338 462"/><path d="M122 376Q155 352 215 372Q295 402 332 478"/><path d="M124 390Q158 368 212 386Q290 416 326 494"/><path d="M126 404Q160 382 210 400Q285 430 320 508"/></g>
<ellipse class="b" cx="160" cy="545" rx="125" ry="48" transform="rotate(33 160 545)"/>
<ellipse class="l" cx="165" cy="548" rx="108" ry="36" transform="rotate(33 165 548)"/>
<path class="l" d="M90 510L150 530L165 515L225 540L250 585M245 500L270 470L300 485L275 520ZM255 505L275 480"/>
<path class="l" d="M95 565L135 622L190 655L240 622"/>
<!-- pin 78 -->
<path class="w" d="M430 640Q438 612 462 612L610 700Q600 740 575 770L425 680Z"/>
<ellipse class="w" cx="592" cy="738" rx="16" ry="34" transform="rotate(30 592 738)"/><ellipse class="l" cx="592" cy="738" rx="9" ry="22" transform="rotate(30 592 738)"/>
<!-- clip ring -->
<ellipse cx="685" cy="805" rx="13" ry="38" transform="rotate(30 685 805)" fill="none" stroke="#000" stroke-width="1.6"/>
</g>

<!-- 42_crank.svg -->
<path class="w" d="M758.4 593.2L750.0 589.9A1.5 3.8 21.5 0 0 747.2 597.0L755.6 600.3Z"/><ellipse class="w" rx="1.5" ry="3.8" transform="translate(757.0 596.8) rotate(21.5)" />
<path class="w" d="M758.4 593.2L773.3 596.4L768.7 608.1L755.6 600.3Z"/>
<ellipse class="w" rx="2.4" ry="6.3" transform="translate(771.0 602.3) rotate(21.5)" />
<path class="w" d="M790.6 602.4L774.7 596.2A2.6 7.0 21.5 0 0 769.6 609.2L785.4 615.5Z"/><ellipse class="w" rx="2.6" ry="7.0" transform="translate(788.0 609.0) rotate(21.5)" />
<ellipse class="l" rx="1.9" ry="5.1" transform="translate(764.0 599.5) rotate(21.5)" />
<ellipse class="l" rx="2.6" ry="7.0" transform="translate(776.0 604.2) rotate(21.5)" />
<path class="w" d="M800.6 595.9L796.5 594.2A4.2 22.5 21.5 0 0 780.0 636.1L784.2 637.7Z"/><ellipse class="w" rx="4.2" ry="22.5" transform="translate(792.4 616.8) rotate(21.5)" />
<path class="w" d="M785 607L791 599.5L795 605L790 611Z"/>
<path class="w" d="M815.1 595.6L803.0 590.8A3.0 8.5 21.5 0 0 796.8 606.6L808.9 611.4Z"/><ellipse class="w" rx="3.0" ry="8.5" transform="translate(812.0 603.5) rotate(21.5)" />
<path class="w" d="M817.4 599.1L812.8 597.3A5.0 23.0 21.5 0 0 795.9 640.1L800.6 641.9Z"/><ellipse class="w" rx="5.0" ry="23.0" transform="translate(809.0 620.5) rotate(21.5)" />
<path class="w" d="M825.2 600.1L820.6 598.3A6.0 24.4 21.5 0 0 802.7 643.7L807.4 645.5Z"/><ellipse class="w" rx="6.0" ry="24.4" transform="translate(816.3 622.8) rotate(21.5)" />
<path class="w" d="M827.5 614.3L823.8 612.8A3.4 9.5 21.5 0 0 816.8 630.5L820.5 631.9Z"/><ellipse class="w" rx="3.4" ry="9.5" transform="translate(824.0 623.1) rotate(21.5)" />
<path class="w" d="M848.1 623.5L832.3 617.3A3.0 8.4 21.5 0 0 826.1 632.9L841.9 639.2Z"/><ellipse class="w" rx="3.0" ry="8.4" transform="translate(845.0 631.4) rotate(21.5)" />
<path class="w" d="M860.6 630.0L848.5 625.2A2.6 7.0 21.5 0 0 843.3 638.2L855.4 643.0Z"/><ellipse class="w" rx="2.6" ry="7.0" transform="translate(858.0 636.5) rotate(21.5)" />
<path class="w" d="M860.6 630.0L876.6 639.1L873.4 647.2L855.4 643.0Z"/>
<ellipse class="l" rx="2.6" ry="7.0" transform="translate(858.0 636.5) rotate(21.5)" />
<ellipse class="w" rx="1.7" ry="4.4" transform="translate(875.0 643.2) rotate(21.5)" />
<ellipse class="k" rx="1.1" ry="3.0" transform="translate(875.0 643.2) rotate(21.5)" />
<ellipse class="l" rx="2.6" ry="7.0" transform="translate(851.0 633.7) rotate(21.5)" />
<ellipse class="l" rx="2.2" ry="5.8" transform="translate(866.0 639.6) rotate(21.5)" />
<path class="w" d="M906.5 637.8L898.2 634.5A5.9 16.5 21.5 0 0 886.1 665.2L894.5 668.5Z"/><ellipse class="w" rx="5.9" ry="16.5" transform="translate(900.5 653.2) rotate(21.5)" /><ellipse class="l" rx="4.3" ry="11.9" transform="translate(900.5 653.2) rotate(21.5)" style="stroke-width:2"/><ellipse class="l" rx="2.6" ry="7.4" transform="translate(900.5 653.2) rotate(21.5)" />
<g transform="translate(745 545) scale(0.16632)">
<path class="w" d="M600 15L672 40Q686 60 672 90L650 120L560 252L550 316L480 300L420 276L440 226L470 216L575 88Q568 60 585 35Z" style="stroke-width:1.4"/>
<path class="b" d="M600 15Q580 40 590 70L660 98M575 88L650 120M590 100L500 232M620 114L530 242M470 216L560 252M440 226L500 232L530 242M500 232L480 300M530 242L520 308M455 250L470 262"/>
<circle cx="500" cy="208" r="6" fill="#000"/><circle class="l" cx="622" cy="118" r="7"/>
<path class="w" d="M140 600L205 595L330 630L336 650L300 690L262 696L200 662Z" style="stroke-width:1.4"/>
<path class="b" d="M205 595L215 660M250 610L245 672M262 696L270 650L330 630M215 625L270 650M140 600L200 640"/><path d="M225 605L262 615M300 645L280 685" stroke="#000" stroke-width="2.6"/>
</g>
<path class="w" d="M770.4 691.2L778.8 671.3L775.6 669.9L767.2 689.8Z"/>
<path class="w" d="M771.9 691.8L770.6 695.0L764.3 692.4L765.7 689.2Z" style="stroke-width:1.3"/>
<ellipse class="w" cx="768.8" cy="690.5" rx="4.2" ry="1.5" transform="rotate(22 768.8 690.5)" style="stroke-width:1.2"/>
<path class="w" d="M785.6 692.1L793.3 672.4L790.1 671.2L782.4 690.9Z"/>
<path class="w" d="M787.2 692.7L785.9 696.0L779.6 693.5L780.8 690.3Z" style="stroke-width:1.3"/>
<ellipse class="w" cx="784.0" cy="691.5" rx="4.2" ry="1.5" transform="rotate(22 784.0 691.5)" style="stroke-width:1.2"/>
<!-- 44_cover.svg -->
<g transform="translate(905 620) scale(0.17812)">
<!-- gasket 34 -->
<path d="M262 60L300 65L385 115L378 165L332 385L312 412L130 570L116 615L100 602L100 540L85 440L76 380L100 230L120 200Z" fill="#fff" stroke="#000" stroke-width="1.6" stroke-linejoin="round"/>
<path d="M264 78L296 82L368 124L362 165L318 378L302 398L124 554L114 580L112 538L98 440L90 382L112 238L128 212Z" fill="#fff" stroke="#000" stroke-width="1" stroke-linejoin="round"/>
<g class="w" style="stroke-width:1.2"><ellipse cx="254" cy="90" rx="8" ry="13"/><ellipse cx="298" cy="118" rx="8" ry="14"/><ellipse cx="374" cy="140" rx="9" ry="14"/><ellipse cx="326" cy="394" rx="8" ry="13"/><ellipse cx="80" cy="372" rx="9" ry="14"/><ellipse cx="80" cy="430" rx="9" ry="14"/><ellipse cx="112" cy="602" rx="8" ry="13"/><ellipse cx="110" cy="216" rx="8" ry="13"/></g>
<!-- 36 cover -->
</g>
<g transform="translate(975 645) scale(0.12478)">
<path d="M215 95L292 128L272 205L375 222L380 188L458 210L300 765L235 748L240 722L100 685L95 662L60 650L62 605L98 592L100 490L170 215Z" fill="#000" stroke="#000" stroke-width="1" stroke-linejoin="round"/>
<path d="M228 140L262 150L252 188L216 190Z" fill="#fff"/>
<path d="M395 210L438 220L434 236L392 226Z" fill="#fff"/>
<path d="M262 238L410 268L337 545L188 508L222 320Q232 262 262 238Z" fill="#fff"/>
<path d="M186 300L200 304L135 560L120 556Z" fill="#fff"/>
<path d="M172 532L326 572L320 600L165 562Z" fill="#fff"/>
<path d="M132 636L300 682L296 708L124 664Z" fill="#fff"/>
<path d="M150 602L300 642" stroke="#fff" stroke-width=".6"/>
<path d="M200 215L170 330" stroke="#fff" stroke-width=".6"/>
</g>
<g transform="translate(905 620) scale(0.17812)">
<!-- 35 -->
<ellipse class="w" cx="160" cy="755" rx="42" ry="36" style="stroke-width:1.2"/>
<path class="w" d="M100 750L135 730L245 740L215 760L160 775L110 765Z" style="stroke-width:1.2"/><path class="l" d="M135 745Q165 725 200 748M150 770Q175 790 200 770M215 745L240 742"/>
</g>

<!-- 46_right.svg -->
<path class="w" d="M1074.4 708.6L1067.9 706.1A4.3 12.0 21.5 0 0 1059.1 728.4L1065.6 731.0Z"/><ellipse class="w" rx="4.3" ry="12.0" transform="translate(1070.0 719.8) rotate(21.5)" /><ellipse class="l" rx="3.1" ry="8.6" transform="translate(1070.0 719.8) rotate(21.5)" style="stroke-width:2"/><ellipse class="l" rx="1.9" ry="5.4" transform="translate(1070.0 719.8) rotate(21.5)" />
<use href="#boltk" transform="translate(1126.5 682.5) rotate(200)"/>
<use href="#boltk" transform="translate(1122.2 694.0) rotate(200)"/>
<use href="#boltk" transform="translate(1116.4 706.1) rotate(200)"/>
<use href="#boltk" transform="translate(1113.0 716.4) rotate(200)"/>
<use href="#boltk" transform="translate(1100.6 732.8) rotate(200)"/>
<use href="#boltk" transform="translate(1094.9 747.2) rotate(200)"/>
<use href="#boltk" transform="translate(1086.8 765.9) rotate(200)"/>
<use href="#boltk" transform="translate(1082.5 778.8) rotate(200)"/>
<use href="#boltk" transform="translate(1076.8 789.4) rotate(200)"/>
<!-- 48_bal.svg -->
<path class="w" d="M647.0 709.4L639.6 706.5A5.2 14.5 21.5 0 0 628.9 733.5L636.4 736.4Z"/><ellipse class="w" rx="5.2" ry="14.5" transform="translate(641.7 722.9) rotate(21.5)" /><ellipse class="l" rx="3.8" ry="10.4" transform="translate(641.7 722.9) rotate(21.5)" style="stroke-width:2"/><ellipse class="l" rx="2.3" ry="6.5" transform="translate(641.7 722.9) rotate(21.5)" />
<path class="w" d="M786.4 757.4L779.0 754.5A5.2 14.5 21.5 0 0 768.3 781.5L775.8 784.4Z"/><ellipse class="w" rx="5.2" ry="14.5" transform="translate(781.1 770.9) rotate(21.5)" /><ellipse class="l" rx="3.8" ry="10.4" transform="translate(781.1 770.9) rotate(21.5)" style="stroke-width:2"/><ellipse class="l" rx="2.3" ry="6.5" transform="translate(781.1 770.9) rotate(21.5)" />
<g transform="translate(620 695) scale(0.15491)">
<path class="w" d="M305 225Q310 205 330 205L350 215L345 270L310 265Z"/>
<path class="w" d="M330 215L400 215L480 268L520 270Q600 230 660 310L690 330L640 350L610 330L560 310L490 335L392 420L340 402L320 300Z" style="stroke-width:1.3"/>
<path class="l" d="M350 240Q370 320 380 415M400 215L385 240L350 240M480 268L490 335M480 268L560 310M490 335L540 290M520 270L540 290L610 330M400 232L480 280M610 330Q620 420 650 470"/>
<path d="M420 232L500 268" stroke="#000" stroke-width="2.2"/>
</g>
<path class="w" d="M746.9 729.8L741.3 727.6A7.5 27.0 21.5 0 0 721.5 777.8L727.1 780.0Z"/><ellipse class="w" rx="7.5" ry="27.0" transform="translate(737.0 754.9) rotate(21.5)" />
<path d="M721.5 777.8L727.1 780.0" stroke="#000" stroke-width="1.2"/>
<path d="M721.0 777.5L726.5 779.7" stroke="#000" stroke-width="1.2"/>
<path d="M720.5 777.0L726.0 779.2" stroke="#000" stroke-width="1.2"/>
<path d="M720.1 776.3L725.6 778.5" stroke="#000" stroke-width="1.2"/>
<path d="M719.7 775.4L725.3 777.6" stroke="#000" stroke-width="1.2"/>
<path d="M719.5 774.3L725.1 776.5" stroke="#000" stroke-width="1.2"/>
<path d="M719.4 773.1L724.9 775.3" stroke="#000" stroke-width="1.2"/>
<path d="M719.3 771.7L724.9 773.9" stroke="#000" stroke-width="1.2"/>
<path d="M719.4 770.2L724.9 772.4" stroke="#000" stroke-width="1.2"/>
<path d="M719.5 768.5L725.1 770.7" stroke="#000" stroke-width="1.2"/>
<path d="M719.7 766.7L725.3 768.9" stroke="#000" stroke-width="1.2"/>
<path d="M720.0 764.9L725.6 767.1" stroke="#000" stroke-width="1.2"/>
<path d="M720.4 762.9L726.0 765.1" stroke="#000" stroke-width="1.2"/>
<path d="M720.9 760.8L726.5 763.0" stroke="#000" stroke-width="1.2"/>
<path d="M721.5 758.7L727.1 760.9" stroke="#000" stroke-width="1.2"/>
<path d="M722.1 756.5L727.7 758.7" stroke="#000" stroke-width="1.2"/>
<path d="M722.8 754.4L728.4 756.6" stroke="#000" stroke-width="1.2"/>
<path d="M723.6 752.2L729.2 754.4" stroke="#000" stroke-width="1.2"/>
<path d="M724.4 750.0L730.0 752.2" stroke="#000" stroke-width="1.2"/>
<path d="M725.3 747.8L730.9 750.0" stroke="#000" stroke-width="1.2"/>
<path d="M726.3 745.6L731.8 747.8" stroke="#000" stroke-width="1.2"/>
<path d="M727.2 743.5L732.8 745.7" stroke="#000" stroke-width="1.2"/>
<path d="M728.2 741.5L733.8 743.7" stroke="#000" stroke-width="1.2"/>
<path d="M729.3 739.6L734.9 741.8" stroke="#000" stroke-width="1.2"/>
<path d="M730.3 737.8L735.9 740.0" stroke="#000" stroke-width="1.2"/>
<path d="M731.4 736.0L737.0 738.2" stroke="#000" stroke-width="1.2"/>
<path d="M732.4 734.4L738.0 736.6" stroke="#000" stroke-width="1.2"/>
<path d="M733.5 733.0L739.1 735.2" stroke="#000" stroke-width="1.2"/>
<path d="M734.5 731.7L740.1 733.9" stroke="#000" stroke-width="1.2"/>
<path d="M735.5 730.5L741.1 732.7" stroke="#000" stroke-width="1.2"/>
<path d="M736.5 729.6L742.1 731.8" stroke="#000" stroke-width="1.2"/>
<path d="M737.4 728.8L743.0 731.0" stroke="#000" stroke-width="1.2"/>
<path d="M738.3 728.2L743.9 730.4" stroke="#000" stroke-width="1.2"/>
<path d="M739.2 727.7L744.8 729.9" stroke="#000" stroke-width="1.2"/>
<path d="M740.0 727.5L745.5 729.7" stroke="#000" stroke-width="1.2"/>
<path d="M740.7 727.4L746.2 729.6" stroke="#000" stroke-width="1.2"/>
<path d="M741.3 727.6L746.9 729.8" stroke="#000" stroke-width="1.2"/>
<ellipse class="w" rx="7.5" ry="27.0" transform="translate(737.0 754.9) rotate(21.5)" style="stroke-width:1.5"/>
<ellipse rx="6.9" ry="26.2" transform="translate(737.0 754.9) rotate(21.5)" fill="none" stroke="#000" stroke-width="2" stroke-dasharray="1 1.1"/>
<ellipse class="l" rx="5.6" ry="20.0" transform="translate(737.3 755.0) rotate(21.5)" />
<g transform="translate(620 695) scale(0.15491)">
<path class="w" d="M712 402L820 442L825 520L790 552L722 532L700 480Z" style="stroke-width:1.3"/><path class="l" d="M760 420L765 545M712 402L760 420"/>
</g>
<path class="w" d="M749.4 746.4L740.1 742.7A2.5 6.6 21.5 0 0 735.3 755.0L744.6 758.6Z"/><ellipse class="w" rx="2.5" ry="6.6" transform="translate(747.0 752.5) rotate(21.5)" />
<path class="w" d="M758.8 754.5L750.4 751.2A1.9 4.8 21.5 0 0 746.9 760.2L755.2 763.5Z"/><ellipse class="w" rx="1.9" ry="4.8" transform="translate(757.0 759.0) rotate(21.5)" />
<!-- 90_labels.svg -->
<g class="t">
<path d="M54.0 320.5L68.0 326.0"/>
<path d="M105.0 340.5L223.0 386.9"/>
<path d="M238.0 392.8L295.0 415.2"/>
<path d="M304.0 418.8L492.0 492.6"/>
<path d="M557.0 518.2L640.0 550.8"/>
<path d="M692.0 571.2L748.0 593.2"/>
<path d="M873.0 642.4L890.0 649.0"/>
<path d="M907.0 655.7L993.0 689.5"/>
<path d="M1007.5 695.2L1057.0 714.7"/>
<path d="M1072.0 720.6L1110.0 735.5"/>
<path d="M555.4 171.9L606.0 212.5"/>
<path d="M628.0 230.5L656.4 253.1"/>
<path d="M690.9 280.0L714.0 298.5"/>
<path d="M748.0 326.0L760.0 336.0"/>
</g>
<g class="t" stroke-dasharray="9 2 1.5 2">
<path d="M497.0 433.0L433.0 462.0"/>
<path d="M424.0 467.0L286.0 531.0"/>
<path d="M286.0 531.0L280.5 636.0"/>
<path d="M279.0 642.0L278.8 651.0"/>
<path d="M460.0 505.4L384.6 624.5"/>
</g>
<g class="t">
<path d="M331.0 71.0L392.4 149.8"/>
<path d="M483.8 73.6L463.2 102.8"/>
<path d="M632.2 46.5L607.6 77.5"/>
<path d="M647.9 69.7L607.6 98.1"/>
<path d="M883.8 28.5L907.3 24.4"/>
<path d="M1006.3 38.8L1037.3 65.1"/>
<path d="M991.8 74.8L1016.2 98.4"/>
<path d="M953.6 108.6L993.8 135.8"/>
<path d="M948.6 136.3L980.8 157.9"/>
<path d="M930.0 164.0L961.4 189.0"/>
<path d="M914.3 206.4L942.5 224.4"/>
<path d="M853.9 167.3L849.3 202.4"/>
<path d="M854.2 167.3L860.4 210.0"/>
<path d="M809.0 192.2L829.4 221.5"/>
<path d="M822.8 179.9L837.7 212.7"/>
<path d="M834.2 172.8L850.8 221.5"/>
<path d="M884.5 229.3L919.7 257.1"/>
<path d="M871.5 252.4L905.9 278.5"/>
<path d="M821.6 239.8L894.0 289.2"/>
<path d="M825.1 264.2L883.8 303.0"/>
<path d="M830.6 304.6L881.7 322.4"/>
<path d="M548.3 219.4L570.4 184.5"/>
<path d="M576.1 242.0L606.5 222.2"/>
<path d="M617.2 265.7L643.4 243.2"/>
<path d="M640.3 291.9L668.3 269.8"/>
<path d="M663.1 307.8L696.8 288.3"/>
<path d="M690.2 331.5L725.3 310.2"/>
<path d="M717.0 354.3L737.2 350.1"/>
<path d="M725.3 214.6L777.4 265.1"/>
<path d="M557.2 314.7L562.1 375.5"/>
<path d="M523.5 318.5L534.0 409.7"/>
<path d="M693.0 389.2L718.0 395.3"/>
<path d="M673.3 415.1L703.0 437.2"/>
<path d="M657.8 436.5L703.0 466.2"/>
<path d="M650.7 464.5L676.8 502.7"/>
<path d="M628.4 494.3L657.8 546.0"/>
<path d="M815.3 474.1L859.8 435.0"/>
<path d="M810.6 499.0L839.1 507.3"/>
<path d="M932.0 370.4L893.6 382.8"/>
<path d="M927.0 475.5L958.8 500.0"/>
<path d="M913.2 492.9L952.1 524.7"/>
<path d="M904.6 510.4L949.3 546.5"/>
<path d="M911.3 550.3L935.0 591.2"/>
<path d="M875.2 540.8L923.6 614.0"/>
<path d="M782.3 537.9L831.5 569.3"/>
<path d="M722.4 642.6L769.2 646.8"/>
<path d="M722.4 642.6L771.1 677.0"/>
<path d="M824.0 705.0L857.6 647.0"/>
<path d="M857.0 726.0L893.0 669.0"/>
<path d="M894.5 743.1L920.9 704.0"/>
<path d="M921.8 773.9L935.3 755.2"/>
<path d="M990.7 783.9L998.5 735.1"/>
<path d="M1023.2 796.0L1058.3 728.7"/>
<path d="M1054.8 809.8L1066.9 789.7"/>
<path d="M609.6 737.1L628.9 726.3"/>
<path d="M651.8 773.3L673.5 762.4"/>
<path d="M745.8 801.0L766.3 779.8"/>
<path d="M619.0 639.0L636.8 621.2"/>
<path d="M507.0 594.0L538.0 527.0"/>
<path d="M523.2 612.2L557.1 548.9"/>
<path d="M554.3 611.6L563.8 588.8"/>
<path d="M570.4 616.3L575.7 591.6"/>
<path d="M474.9 618.0L469.7 575.7"/>
<path d="M456.6 651.4L454.5 594.0"/>
<path d="M399.7 688.0L392.6 669.7"/>
<path d="M401.8 686.7L408.3 626.6"/>
<path d="M415.6 693.2L424.0 604.4"/>
<path d="M431.8 698.4L444.1 578.3"/>
<path d="M384.0 711.5L382.0 682.0"/>
<path d="M485.4 720.6L501.0 702.3"/>
<path d="M529.8 745.9L525.1 701.0"/>
<path d="M236.3 558.7L274.9 553.4"/>
<path d="M310.2 546.9L290.0 546.9"/>
<path d="M352.0 566.5L333.7 559.7"/>
<path d="M361.1 601.5L331.8 594.4"/>
<path d="M238.3 607.5L268.4 582.7"/>
<path d="M238.3 625.8L297.1 590.0"/>
<path d="M237.8 648.5L276.2 639.6"/>
<path d="M238.3 670.7L277.0 664.4"/>
<path d="M254.0 714.6L276.2 682.4"/>
<path d="M312.8 679.8L325.8 624.5"/>
<path d="M314.1 692.4L314.6 723.7"/>
<path d="M363.7 728.9L333.7 718.5"/>
<path d="M120.6 586.5L201.0 654.9"/>
<path d="M25.4 364.6L54.1 320.7"/>
<path d="M57.0 421.3L68.5 398.5"/>
<path d="M78.4 422.6L109.8 358.6"/>
<path d="M158.8 454.8L181.0 407.7"/>
<path d="M202.2 473.6L229.6 396.0"/>
<path d="M230.9 485.4L252.6 416.1"/>
<path d="M288.4 496.3L306.7 458.7"/>
<path d="M344.0 529.2L378.5 478.8"/>
<path d="M378.5 542.8L424.0 468.0"/>
<path d="M307.4 315.7L350.0 369.2"/>
<path d="M358.3 308.7L392.8 367.9"/>
<path d="M413.7 314.4L428.3 408.4"/>
<path d="M446.6 310.9L462.2 425.8"/>
<path d="M465.2 313.2L469.8 405.9"/>
<path d="M489.9 314.7L486.5 407.8"/>
</g>
<g>
<text x="322.5" y="71.2">3</text>
<text x="492.4" y="68.1">40</text>
<text x="521.0" y="122.9">41</text>
<text x="640.7" y="46.7">82</text>
<text x="655.4" y="73.0">83</text>
<text x="874.1" y="35.1">55</text>
<text x="1048.6" y="73.0">61</text>
<text x="1023.4" y="108.5">62</text>
<text x="1002.1" y="142.6">63</text>
<text x="990.6" y="165.6">64</text>
<text x="967.6" y="198.4">65</text>
<text x="948.7" y="233.6">66</text>
<text x="854.4" y="160.9">56</text>
<text x="833.3" y="172.0">57</text>
<text x="820.9" y="178.7">58</text>
<text x="807.0" y="191.1">59</text>
<text x="925.6" y="266.0">67</text>
<text x="913.0" y="286.6">68</text>
<text x="901.2" y="297.3">69</text>
<text x="890.5" y="311.6">70</text>
<text x="888.1" y="329.4">71</text>
<text x="718.2" y="216.2">60</text>
<text x="546.0" y="232.3">43</text>
<text x="571.6" y="254.2">44</text>
<text x="612.5" y="275.8">45</text>
<text x="635.5" y="301.9">46</text>
<text x="656.4" y="317.8">47</text>
<text x="684.5" y="340.9">48</text>
<text x="709.9" y="360.6">49</text>
<text x="686.0" y="392.2">50</text>
<text x="666.1" y="418.1">51</text>
<text x="653.1" y="437.5">52</text>
<text x="647.8" y="463.2">53</text>
<text x="622.1" y="494.2">54</text>
<text x="938.7" y="374.3">13</text>
<text x="814.1" y="485.1">74</text>
<text x="803.9" y="502.5">75</text>
<text x="964.6" y="510.1">81</text>
<text x="958.5" y="534.5">80</text>
<text x="956.0" y="556.1">79</text>
<text x="942.6" y="599.9">78</text>
<text x="929.7" y="624.0">77</text>
<text x="774.9" y="540.6">76</text>
<text x="714.8" y="647.2">76</text>
<text x="822.4" y="716.4">32</text>
<text x="854.7" y="736.9">33</text>
<text x="889.3" y="756.9">34</text>
<text x="919.8" y="787.1">35</text>
<text x="990.2" y="795.7">36</text>
<text x="1020.3" y="808.6">19</text>
<text x="1052.0" y="822.4">37</text>
<text x="604.8" y="748.2">84</text>
<text x="652.5" y="784.6">85</text>
<text x="742.2" y="814.0">84</text>
<text x="615.4" y="649.1">30</text>
<text x="530.3" y="757.9">31</text>
<text x="482.2" y="732.3">13</text>
<text x="505.0" y="605.9">26</text>
<text x="519.3" y="624.7">27</text>
<text x="552.2" y="623.9">28</text>
<text x="569.5" y="627.7">29</text>
<text x="477.5" y="629.9">25</text>
<text x="457.9" y="663.8">24</text>
<text x="415.6" y="705.1">22</text>
<text x="432.3" y="710.3">23</text>
<text x="400.0" y="698.6">13</text>
<text x="386.0" y="722.8">72</text>
<text x="369.0" y="735.2">9</text>
<text class="s" x="310.2" y="691.0">13</text>
<text x="257.2" y="724.4">42</text>
<text class="s" x="116.1" y="586.2">10</text>
<text class="n" transform="translate(235.7 558.7) scale(.62 1)">1</text>
<text class="n" transform="translate(233.6 614.4) scale(.62 1)">2</text>
<text class="n" transform="translate(234.4 630.1) scale(.62 1)">3</text>
<text class="n" transform="translate(233.9 651.5) scale(.62 1)">4</text>
<text class="n" transform="translate(233.9 671.1) scale(.62 1)">5</text>
<text class="n" transform="translate(315.9 552.2) scale(.62 1)">6</text>
<text class="n" transform="translate(353.3 574.4) scale(.62 1)">7</text>
<text class="n" transform="translate(366.4 606.1) scale(.62 1)">8</text>
<text class="s" x="16.2" y="376.8">11</text>
<text class="s" x="52.3" y="431.4">12</text>
<text class="s" x="75.3" y="433.4">13</text>
<text class="s" x="154.9" y="467.8">14</text>
<text class="s" x="198.8" y="485.1">15</text>
<text class="s" x="228.3" y="497.6">16</text>
<text class="s" x="284.5" y="508.0">17</text>
<text class="s" x="340.0" y="541.0">18</text>
<text class="s" x="374.6" y="554.8">19</text>
<text x="304.3" y="315.1">20</text>
<text x="355.7" y="307.2">21</text>
<text x="413.7" y="313.0">86</text>
<text x="444.3" y="311.5">41</text>
<text x="465.1" y="313.5">11</text>
<text x="492.8" y="314.8">73</text>
<text x="523.5" y="317.0">38</text>
<text x="556.4" y="313.2">39</text>
</g>
</svg>
</body></html>
